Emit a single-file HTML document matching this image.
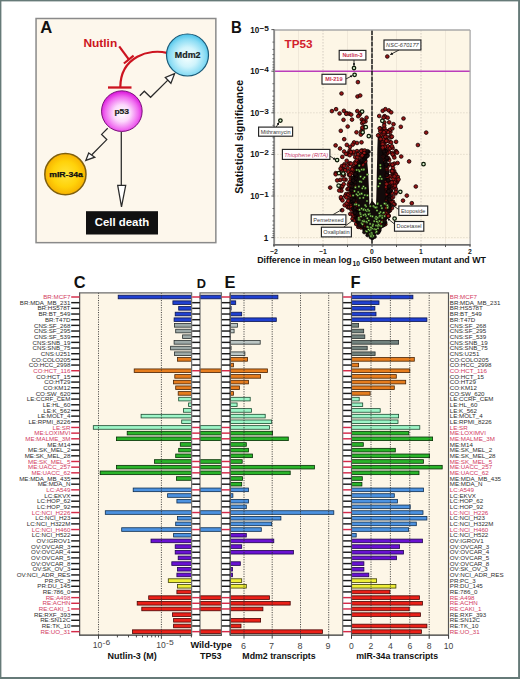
<!DOCTYPE html>
<html><head><meta charset="utf-8"><title>TP53 figure</title>
<style>
html,body{margin:0;padding:0;background:#fff;}
body{width:520px;height:679px;overflow:hidden;}
svg{display:block;font-family:"Liberation Sans", sans-serif;}
</style></head><body>
<svg width="520" height="679" viewBox="0 0 520 679">
<defs>
<radialGradient id="gP" cx="0.5" cy="0.55" r="0.52"><stop offset="0" stop-color="#ffffff"/><stop offset="0.4" stop-color="#fcd8fc"/><stop offset="0.78" stop-color="#f06cf0"/><stop offset="1" stop-color="#de22de"/></radialGradient>
<radialGradient id="gM" cx="0.5" cy="0.55" r="0.52"><stop offset="0" stop-color="#f6ffff"/><stop offset="0.45" stop-color="#d0f4fc"/><stop offset="0.82" stop-color="#8adcf4"/><stop offset="1" stop-color="#58c8ec"/></radialGradient>
<radialGradient id="gO" cx="0.5" cy="0.5" r="0.52"><stop offset="0" stop-color="#ffe43a"/><stop offset="0.6" stop-color="#ffd20a"/><stop offset="1" stop-color="#f6ae00"/></radialGradient>
<marker id="ah" viewBox="0 0 6 6" refX="5.5" refY="3" markerWidth="3.2" markerHeight="3.2" orient="auto"><path d="M0,0 L6,3 L0,6 Z" fill="#111"/></marker>
</defs>
<rect x="0" y="0" width="520" height="679" fill="#fff"/>

<rect x="36.05" y="18.5" width="179.8" height="224.15" fill="#fdf7ec" stroke="#8a8a8a" stroke-width="1.5"/>
<text x="40.3" y="32.9" font-size="16.6" font-weight="bold" fill="#111">A</text>
<text x="83.4" y="46.9" font-size="11.2" font-weight="bold" fill="#cc1420" textLength="33.8" lengthAdjust="spacingAndGlyphs">Nutlin</text>
<g stroke="#cc1420" stroke-width="2.2" fill="none" stroke-linecap="butt">
<path d="M119.2,46.4 L128.8,59.4"/>
<path d="M123.9,63.5 L133.6,55.6"/>
<path d="M166.8,52.9 C150,48.5 120.5,56 120.3,87.2"/>
<path d="M108.0,87.5 L131.5,87.5" stroke-width="2.3"/>
</g>
<g stroke="#2a2a2a" stroke-width="1.25" fill="none" stroke-linejoin="miter">
<path d="M139.8,95.7 L144.3,91.2 L150.6,97.3 L168.1,79.9"/>
<path d="M174.6,73.7 L165.3,77.5 L170.9,83.3 Z" fill="#fff"/>
<path d="M107.7,128.3 L101.6,134.4 L106.8,139.6 L91.6,155"/>
<path d="M85.8,160.4 L88.7,152.9 L94.8,157.2 Z" fill="#fff"/>
<path d="M121.3,132 L121.3,185.3"/>
<path d="M117.7,185.3 L125.7,185.3 L121.5,206.8 Z" fill="#fff"/>
</g>
<circle cx="187.5" cy="55" r="21" fill="url(#gM)" stroke="#1a5a78" stroke-width="1.2"/>
<circle cx="121.85" cy="111.15" r="20.3" fill="url(#gP)" stroke="#7a107a" stroke-width="1"/>
<circle cx="65.4" cy="174.2" r="20.6" fill="url(#gO)" stroke="#80600e" stroke-width="1.5"/>
<text x="174.8" y="58.4" font-size="8.6" font-weight="bold" fill="#142222" stroke="#142222" stroke-width="0.2" textLength="25.7" lengthAdjust="spacingAndGlyphs">Mdm2</text>
<text x="114.4" y="114.1" font-size="7.8" font-weight="bold" fill="#1a1a1a" stroke="#1a1a1a" stroke-width="0.2" textLength="14.7" lengthAdjust="spacingAndGlyphs">p53</text>
<text x="49.2" y="176.8" font-size="7.2" font-weight="bold" fill="#111" stroke="#111" stroke-width="0.25" textLength="33.7" lengthAdjust="spacingAndGlyphs">mIR-34a</text>
<rect x="86" y="211.2" width="72" height="23.3" fill="#111"/>
<text x="94.8" y="226" font-size="11.2" font-weight="bold" fill="#fff" textLength="54.4" lengthAdjust="spacingAndGlyphs">Cell death</text>
<text x="231.1" y="33.3" font-size="17" font-weight="bold" fill="#111" textLength="10.8" lengthAdjust="spacingAndGlyphs">B</text>
<rect x="274.15" y="30.0" width="195.95000000000005" height="214.85" fill="#fdf6e6"/>
<rect x="275.15" y="30.0" width="4.5" height="214.85" fill="#fff" opacity="0.55"/>
<rect x="274.15" y="238.85" width="195.95000000000005" height="5" fill="#fff" opacity="0.35"/>
<line x1="298.5" y1="30.0" x2="298.5" y2="244.85" stroke="#ece5d5" stroke-width="0.8"/>
<line x1="347.5" y1="30.0" x2="347.5" y2="244.85" stroke="#ece5d5" stroke-width="0.8"/>
<line x1="396.5" y1="30.0" x2="396.5" y2="244.85" stroke="#ece5d5" stroke-width="0.8"/>
<line x1="445.5" y1="30.0" x2="445.5" y2="244.85" stroke="#ece5d5" stroke-width="0.8"/>
<line x1="323.0" y1="30.0" x2="323.0" y2="244.85" stroke="#c9c3b6" stroke-width="0.8" stroke-dasharray="1.5,1.5"/>
<line x1="421.0" y1="30.0" x2="421.0" y2="244.85" stroke="#c9c3b6" stroke-width="0.8" stroke-dasharray="1.5,1.5"/>
<line x1="274.15" y1="237.6" x2="470.1" y2="237.6" stroke="#ddd6c6" stroke-width="0.8" stroke-dasharray="1.5,1.5"/>
<line x1="274.15" y1="196.0" x2="470.1" y2="196.0" stroke="#ddd6c6" stroke-width="0.8" stroke-dasharray="1.5,1.5"/>
<line x1="274.15" y1="154.39999999999998" x2="470.1" y2="154.39999999999998" stroke="#ddd6c6" stroke-width="0.8" stroke-dasharray="1.5,1.5"/>
<line x1="274.15" y1="112.79999999999998" x2="470.1" y2="112.79999999999998" stroke="#ddd6c6" stroke-width="0.8" stroke-dasharray="1.5,1.5"/>
<line x1="274.15" y1="71.19999999999999" x2="470.1" y2="71.19999999999999" stroke="#bb3cbb" stroke-width="1.6"/>
<line x1="372" y1="30.0" x2="372" y2="244.85" stroke="#151515" stroke-width="1.5" stroke-dasharray="5,0.8"/>
<polygon points="366.6,156.0 367.3,163.0 368.0,170.0 368.4,177.0 368.7,184.0 369.0,191.0 369.2,198.0 369.4,205.0 372.0,200.5 376.0,205.0 376.3,197.0 376.5,189.0 376.7,181.0 376.8,173.0 377.0,165.0 377.2,157.0 377.3,149.0 377.6,141.0 377.9,133.0 378.5,133.0 382.1,138.1 384.3,143.1 385.6,148.2 386.3,153.3 386.8,158.4 387.3,163.4 387.9,168.5 388.4,173.6 388.9,178.6 389.4,183.7 389.9,188.8 390.0,193.9 390.0,198.9 390.0,204.0 389.2,209.1 388.2,214.1 386.3,219.2 384.3,224.3 380.4,229.4 376.2,234.4 372.0,239.5 372.0,239.5 368.0,235.5 364.0,231.5 361.2,227.6 359.0,223.6 356.8,219.6 355.3,215.6 353.7,211.7 352.7,207.7 352.1,203.7 351.5,199.7 351.3,195.8 351.1,191.8 351.3,187.8 351.9,183.8 352.5,179.9 353.3,175.9 354.1,171.9 355.5,167.9 357.5,164.0 361.5,160.0 366.0,156.0" fill="#120a0a"/>
<circle cx="353.3" cy="153.6" r="1.85" fill="#921414" stroke="#100303" stroke-width="0.8"/>
<circle cx="396.1" cy="141.8" r="1.85" fill="#921414" stroke="#100303" stroke-width="0.8"/>
<circle cx="357.0" cy="151.1" r="1.85" fill="#921414" stroke="#100303" stroke-width="0.8"/>
<circle cx="347.7" cy="168.0" r="1.85" fill="#921414" stroke="#100303" stroke-width="0.8"/>
<circle cx="355.3" cy="202.9" r="1.85" fill="#921414" stroke="#100303" stroke-width="0.8"/>
<circle cx="382.2" cy="129.4" r="1.85" fill="#921414" stroke="#100303" stroke-width="0.8"/>
<circle cx="388.4" cy="150.6" r="1.85" fill="#921414" stroke="#100303" stroke-width="0.8"/>
<circle cx="357.7" cy="218.3" r="1.85" fill="#921414" stroke="#100303" stroke-width="0.8"/>
<circle cx="355.3" cy="157.2" r="1.85" fill="#921414" stroke="#100303" stroke-width="0.8"/>
<circle cx="393.6" cy="155.3" r="1.85" fill="#921414" stroke="#100303" stroke-width="0.8"/>
<circle cx="348.8" cy="193.7" r="1.85" fill="#921414" stroke="#100303" stroke-width="0.8"/>
<circle cx="387.0" cy="213.1" r="1.85" fill="#921414" stroke="#100303" stroke-width="0.8"/>
<circle cx="358.3" cy="220.4" r="1.85" fill="#921414" stroke="#100303" stroke-width="0.8"/>
<circle cx="364.2" cy="126.9" r="1.85" fill="#921414" stroke="#100303" stroke-width="0.8"/>
<circle cx="357.7" cy="223.3" r="1.85" fill="#921414" stroke="#100303" stroke-width="0.8"/>
<circle cx="385.7" cy="138.0" r="1.85" fill="#921414" stroke="#100303" stroke-width="0.8"/>
<circle cx="387.0" cy="137.0" r="1.85" fill="#921414" stroke="#100303" stroke-width="0.8"/>
<circle cx="389.1" cy="210.9" r="1.85" fill="#921414" stroke="#100303" stroke-width="0.8"/>
<circle cx="392.9" cy="201.6" r="1.85" fill="#921414" stroke="#100303" stroke-width="0.8"/>
<circle cx="389.1" cy="131.1" r="1.85" fill="#921414" stroke="#100303" stroke-width="0.8"/>
<circle cx="361.8" cy="119.5" r="1.85" fill="#921414" stroke="#100303" stroke-width="0.8"/>
<circle cx="361.5" cy="150.8" r="1.85" fill="#921414" stroke="#100303" stroke-width="0.8"/>
<circle cx="353.9" cy="165.8" r="1.85" fill="#921414" stroke="#100303" stroke-width="0.8"/>
<circle cx="353.3" cy="199.1" r="1.85" fill="#921414" stroke="#100303" stroke-width="0.8"/>
<circle cx="381.1" cy="130.1" r="1.85" fill="#921414" stroke="#100303" stroke-width="0.8"/>
<circle cx="353.4" cy="216.3" r="1.85" fill="#921414" stroke="#100303" stroke-width="0.8"/>
<circle cx="359.9" cy="224.9" r="1.85" fill="#921414" stroke="#100303" stroke-width="0.8"/>
<circle cx="348.3" cy="164.5" r="1.85" fill="#921414" stroke="#100303" stroke-width="0.8"/>
<circle cx="379.8" cy="136.5" r="1.85" fill="#921414" stroke="#100303" stroke-width="0.8"/>
<circle cx="357.3" cy="165.0" r="1.85" fill="#921414" stroke="#100303" stroke-width="0.8"/>
<circle cx="394.8" cy="186.3" r="1.85" fill="#921414" stroke="#100303" stroke-width="0.8"/>
<circle cx="365.1" cy="160.2" r="1.85" fill="#921414" stroke="#100303" stroke-width="0.8"/>
<circle cx="347.8" cy="206.7" r="1.85" fill="#921414" stroke="#100303" stroke-width="0.8"/>
<circle cx="387.3" cy="199.5" r="1.85" fill="#921414" stroke="#100303" stroke-width="0.8"/>
<circle cx="382.1" cy="139.9" r="1.85" fill="#921414" stroke="#100303" stroke-width="0.8"/>
<circle cx="348.5" cy="203.9" r="1.85" fill="#921414" stroke="#100303" stroke-width="0.8"/>
<circle cx="392.9" cy="174.6" r="1.85" fill="#921414" stroke="#100303" stroke-width="0.8"/>
<circle cx="386.1" cy="154.7" r="1.85" fill="#921414" stroke="#100303" stroke-width="0.8"/>
<circle cx="349.9" cy="163.3" r="1.85" fill="#921414" stroke="#100303" stroke-width="0.8"/>
<circle cx="387.5" cy="210.7" r="1.85" fill="#921414" stroke="#100303" stroke-width="0.8"/>
<circle cx="355.2" cy="162.3" r="1.85" fill="#921414" stroke="#100303" stroke-width="0.8"/>
<circle cx="386.8" cy="153.5" r="1.85" fill="#921414" stroke="#100303" stroke-width="0.8"/>
<circle cx="395.9" cy="189.1" r="1.85" fill="#921414" stroke="#100303" stroke-width="0.8"/>
<circle cx="356.0" cy="209.5" r="1.85" fill="#921414" stroke="#100303" stroke-width="0.8"/>
<circle cx="350.8" cy="178.4" r="1.85" fill="#921414" stroke="#100303" stroke-width="0.8"/>
<circle cx="346.1" cy="194.1" r="1.85" fill="#921414" stroke="#100303" stroke-width="0.8"/>
<circle cx="394.6" cy="204.4" r="1.85" fill="#921414" stroke="#100303" stroke-width="0.8"/>
<circle cx="389.1" cy="203.5" r="1.85" fill="#921414" stroke="#100303" stroke-width="0.8"/>
<circle cx="345.6" cy="179.6" r="1.85" fill="#921414" stroke="#100303" stroke-width="0.8"/>
<circle cx="394.4" cy="163.6" r="1.85" fill="#921414" stroke="#100303" stroke-width="0.8"/>
<circle cx="386.8" cy="204.5" r="1.85" fill="#921414" stroke="#100303" stroke-width="0.8"/>
<circle cx="346.7" cy="160.8" r="1.85" fill="#921414" stroke="#100303" stroke-width="0.8"/>
<circle cx="386.9" cy="194.0" r="1.85" fill="#921414" stroke="#100303" stroke-width="0.8"/>
<circle cx="387.0" cy="158.7" r="1.85" fill="#921414" stroke="#100303" stroke-width="0.8"/>
<circle cx="387.0" cy="189.3" r="1.85" fill="#921414" stroke="#100303" stroke-width="0.8"/>
<circle cx="384.2" cy="134.7" r="1.85" fill="#921414" stroke="#100303" stroke-width="0.8"/>
<circle cx="356.6" cy="218.7" r="1.85" fill="#921414" stroke="#100303" stroke-width="0.8"/>
<circle cx="350.1" cy="184.6" r="1.85" fill="#921414" stroke="#100303" stroke-width="0.8"/>
<circle cx="381.3" cy="224.2" r="1.85" fill="#921414" stroke="#100303" stroke-width="0.8"/>
<circle cx="395.3" cy="173.7" r="1.85" fill="#921414" stroke="#100303" stroke-width="0.8"/>
<circle cx="386.3" cy="132.0" r="1.85" fill="#921414" stroke="#100303" stroke-width="0.8"/>
<circle cx="397.3" cy="181.4" r="1.85" fill="#921414" stroke="#100303" stroke-width="0.8"/>
<circle cx="365.5" cy="121.4" r="1.85" fill="#921414" stroke="#100303" stroke-width="0.8"/>
<circle cx="385.5" cy="160.1" r="1.85" fill="#921414" stroke="#100303" stroke-width="0.8"/>
<circle cx="382.8" cy="221.4" r="1.85" fill="#921414" stroke="#100303" stroke-width="0.8"/>
<circle cx="344.4" cy="164.3" r="1.85" fill="#921414" stroke="#100303" stroke-width="0.8"/>
<circle cx="385.7" cy="153.8" r="1.85" fill="#921414" stroke="#100303" stroke-width="0.8"/>
<circle cx="392.1" cy="187.0" r="1.85" fill="#921414" stroke="#100303" stroke-width="0.8"/>
<circle cx="390.6" cy="135.9" r="1.85" fill="#921414" stroke="#100303" stroke-width="0.8"/>
<circle cx="393.1" cy="196.9" r="1.85" fill="#921414" stroke="#100303" stroke-width="0.8"/>
<circle cx="352.4" cy="167.7" r="1.85" fill="#921414" stroke="#100303" stroke-width="0.8"/>
<circle cx="359.2" cy="167.1" r="1.85" fill="#921414" stroke="#100303" stroke-width="0.8"/>
<circle cx="388.1" cy="146.6" r="1.85" fill="#921414" stroke="#100303" stroke-width="0.8"/>
<circle cx="350.6" cy="207.7" r="1.85" fill="#921414" stroke="#100303" stroke-width="0.8"/>
<circle cx="341.2" cy="198.6" r="1.85" fill="#921414" stroke="#100303" stroke-width="0.8"/>
<circle cx="386.9" cy="189.8" r="1.85" fill="#921414" stroke="#100303" stroke-width="0.8"/>
<circle cx="357.6" cy="219.8" r="1.85" fill="#921414" stroke="#100303" stroke-width="0.8"/>
<circle cx="361.0" cy="155.9" r="1.85" fill="#921414" stroke="#100303" stroke-width="0.8"/>
<circle cx="355.3" cy="211.6" r="1.85" fill="#921414" stroke="#100303" stroke-width="0.8"/>
<circle cx="357.7" cy="213.6" r="1.85" fill="#921414" stroke="#100303" stroke-width="0.8"/>
<circle cx="344.3" cy="170.0" r="1.85" fill="#921414" stroke="#100303" stroke-width="0.8"/>
<circle cx="387.1" cy="175.1" r="1.85" fill="#921414" stroke="#100303" stroke-width="0.8"/>
<circle cx="390.9" cy="137.3" r="1.85" fill="#921414" stroke="#100303" stroke-width="0.8"/>
<circle cx="352.5" cy="202.3" r="1.85" fill="#921414" stroke="#100303" stroke-width="0.8"/>
<circle cx="359.2" cy="218.2" r="1.85" fill="#921414" stroke="#100303" stroke-width="0.8"/>
<circle cx="365.5" cy="153.3" r="1.85" fill="#921414" stroke="#100303" stroke-width="0.8"/>
<circle cx="349.8" cy="199.2" r="1.85" fill="#921414" stroke="#100303" stroke-width="0.8"/>
<circle cx="350.3" cy="213.9" r="1.85" fill="#921414" stroke="#100303" stroke-width="0.8"/>
<circle cx="358.3" cy="226.9" r="1.85" fill="#921414" stroke="#100303" stroke-width="0.8"/>
<circle cx="384.8" cy="214.7" r="1.85" fill="#921414" stroke="#100303" stroke-width="0.8"/>
<circle cx="388.8" cy="152.2" r="1.85" fill="#921414" stroke="#100303" stroke-width="0.8"/>
<circle cx="389.2" cy="186.8" r="1.85" fill="#921414" stroke="#100303" stroke-width="0.8"/>
<circle cx="340.7" cy="187.4" r="1.85" fill="#921414" stroke="#100303" stroke-width="0.8"/>
<circle cx="380.0" cy="135.6" r="1.85" fill="#921414" stroke="#100303" stroke-width="0.8"/>
<circle cx="387.7" cy="176.2" r="1.85" fill="#921414" stroke="#100303" stroke-width="0.8"/>
<circle cx="341.4" cy="190.7" r="1.85" fill="#921414" stroke="#100303" stroke-width="0.8"/>
<circle cx="361.1" cy="224.4" r="1.85" fill="#921414" stroke="#100303" stroke-width="0.8"/>
<circle cx="352.4" cy="198.9" r="1.85" fill="#921414" stroke="#100303" stroke-width="0.8"/>
<circle cx="380.3" cy="131.3" r="1.85" fill="#921414" stroke="#100303" stroke-width="0.8"/>
<circle cx="358.7" cy="160.2" r="1.85" fill="#921414" stroke="#100303" stroke-width="0.8"/>
<circle cx="382.5" cy="225.5" r="1.85" fill="#921414" stroke="#100303" stroke-width="0.8"/>
<circle cx="362.5" cy="150.7" r="1.85" fill="#921414" stroke="#100303" stroke-width="0.8"/>
<circle cx="387.7" cy="216.0" r="1.85" fill="#921414" stroke="#100303" stroke-width="0.8"/>
<circle cx="341.9" cy="187.1" r="1.85" fill="#921414" stroke="#100303" stroke-width="0.8"/>
<circle cx="386.3" cy="174.7" r="1.85" fill="#921414" stroke="#100303" stroke-width="0.8"/>
<circle cx="347.9" cy="153.4" r="1.85" fill="#921414" stroke="#100303" stroke-width="0.8"/>
<circle cx="347.2" cy="154.1" r="1.85" fill="#921414" stroke="#100303" stroke-width="0.8"/>
<circle cx="357.5" cy="153.5" r="1.85" fill="#921414" stroke="#100303" stroke-width="0.8"/>
<circle cx="392.5" cy="172.6" r="1.85" fill="#921414" stroke="#100303" stroke-width="0.8"/>
<circle cx="389.6" cy="182.1" r="1.85" fill="#921414" stroke="#100303" stroke-width="0.8"/>
<circle cx="344.1" cy="151.5" r="1.85" fill="#921414" stroke="#100303" stroke-width="0.8"/>
<circle cx="352.5" cy="192.7" r="1.85" fill="#921414" stroke="#100303" stroke-width="0.8"/>
<circle cx="386.7" cy="131.1" r="1.85" fill="#921414" stroke="#100303" stroke-width="0.8"/>
<circle cx="362.6" cy="129.7" r="1.85" fill="#921414" stroke="#100303" stroke-width="0.8"/>
<circle cx="349.9" cy="182.3" r="1.85" fill="#921414" stroke="#100303" stroke-width="0.8"/>
<circle cx="390.3" cy="164.4" r="1.85" fill="#921414" stroke="#100303" stroke-width="0.8"/>
<circle cx="359.6" cy="114.6" r="1.85" fill="#921414" stroke="#100303" stroke-width="0.8"/>
<circle cx="379.2" cy="116.0" r="1.85" fill="#921414" stroke="#100303" stroke-width="0.8"/>
<circle cx="385.5" cy="215.3" r="1.85" fill="#921414" stroke="#100303" stroke-width="0.8"/>
<circle cx="385.0" cy="131.1" r="1.85" fill="#921414" stroke="#100303" stroke-width="0.8"/>
<circle cx="345.1" cy="170.2" r="1.85" fill="#921414" stroke="#100303" stroke-width="0.8"/>
<circle cx="382.7" cy="144.5" r="1.85" fill="#921414" stroke="#100303" stroke-width="0.8"/>
<circle cx="387.7" cy="209.1" r="1.85" fill="#921414" stroke="#100303" stroke-width="0.8"/>
<circle cx="341.9" cy="166.2" r="1.85" fill="#921414" stroke="#100303" stroke-width="0.8"/>
<circle cx="386.1" cy="141.4" r="1.85" fill="#921414" stroke="#100303" stroke-width="0.8"/>
<circle cx="387.0" cy="158.3" r="1.85" fill="#921414" stroke="#100303" stroke-width="0.8"/>
<circle cx="394.1" cy="171.1" r="1.85" fill="#921414" stroke="#100303" stroke-width="0.8"/>
<circle cx="388.2" cy="158.6" r="1.85" fill="#921414" stroke="#100303" stroke-width="0.8"/>
<circle cx="349.7" cy="150.7" r="1.85" fill="#921414" stroke="#100303" stroke-width="0.8"/>
<circle cx="347.5" cy="189.2" r="1.85" fill="#921414" stroke="#100303" stroke-width="0.8"/>
<circle cx="387.9" cy="146.3" r="1.85" fill="#921414" stroke="#100303" stroke-width="0.8"/>
<circle cx="355.7" cy="163.3" r="1.85" fill="#921414" stroke="#100303" stroke-width="0.8"/>
<circle cx="392.2" cy="153.1" r="1.85" fill="#921414" stroke="#100303" stroke-width="0.8"/>
<circle cx="356.3" cy="216.1" r="1.85" fill="#921414" stroke="#100303" stroke-width="0.8"/>
<circle cx="384.5" cy="116.2" r="1.85" fill="#921414" stroke="#100303" stroke-width="0.8"/>
<circle cx="390.4" cy="131.8" r="1.85" fill="#921414" stroke="#100303" stroke-width="0.8"/>
<circle cx="392.3" cy="165.0" r="1.85" fill="#921414" stroke="#100303" stroke-width="0.8"/>
<circle cx="354.1" cy="142.4" r="1.85" fill="#921414" stroke="#100303" stroke-width="0.8"/>
<circle cx="394.0" cy="187.1" r="1.85" fill="#921414" stroke="#100303" stroke-width="0.8"/>
<circle cx="383.8" cy="143.6" r="1.85" fill="#921414" stroke="#100303" stroke-width="0.8"/>
<circle cx="389.2" cy="160.1" r="1.85" fill="#921414" stroke="#100303" stroke-width="0.8"/>
<circle cx="352.5" cy="218.9" r="1.85" fill="#921414" stroke="#100303" stroke-width="0.8"/>
<circle cx="364.2" cy="227.5" r="1.85" fill="#921414" stroke="#100303" stroke-width="0.8"/>
<circle cx="356.2" cy="224.0" r="1.85" fill="#921414" stroke="#100303" stroke-width="0.8"/>
<circle cx="347.9" cy="194.9" r="1.85" fill="#921414" stroke="#100303" stroke-width="0.8"/>
<circle cx="390.0" cy="210.4" r="1.85" fill="#921414" stroke="#100303" stroke-width="0.8"/>
<circle cx="355.2" cy="207.5" r="1.85" fill="#921414" stroke="#100303" stroke-width="0.8"/>
<circle cx="362.1" cy="224.8" r="1.85" fill="#921414" stroke="#100303" stroke-width="0.8"/>
<circle cx="353.2" cy="201.2" r="1.85" fill="#921414" stroke="#100303" stroke-width="0.8"/>
<circle cx="387.2" cy="140.5" r="1.85" fill="#921414" stroke="#100303" stroke-width="0.8"/>
<circle cx="349.2" cy="175.0" r="1.85" fill="#921414" stroke="#100303" stroke-width="0.8"/>
<circle cx="361.8" cy="157.3" r="1.85" fill="#921414" stroke="#100303" stroke-width="0.8"/>
<circle cx="391.5" cy="189.4" r="1.85" fill="#921414" stroke="#100303" stroke-width="0.8"/>
<circle cx="384.3" cy="122.4" r="1.85" fill="#921414" stroke="#100303" stroke-width="0.8"/>
<circle cx="360.3" cy="224.3" r="1.85" fill="#921414" stroke="#100303" stroke-width="0.8"/>
<circle cx="386.7" cy="205.6" r="1.85" fill="#921414" stroke="#100303" stroke-width="0.8"/>
<circle cx="385.1" cy="218.5" r="1.85" fill="#921414" stroke="#100303" stroke-width="0.8"/>
<circle cx="381.7" cy="225.7" r="1.85" fill="#921414" stroke="#100303" stroke-width="0.8"/>
<circle cx="361.1" cy="155.5" r="1.85" fill="#921414" stroke="#100303" stroke-width="0.8"/>
<circle cx="390.6" cy="200.8" r="1.85" fill="#921414" stroke="#100303" stroke-width="0.8"/>
<circle cx="391.3" cy="198.1" r="1.85" fill="#921414" stroke="#100303" stroke-width="0.8"/>
<circle cx="384.1" cy="224.2" r="1.85" fill="#921414" stroke="#100303" stroke-width="0.8"/>
<circle cx="387.4" cy="170.1" r="1.85" fill="#921414" stroke="#100303" stroke-width="0.8"/>
<circle cx="363.7" cy="226.5" r="1.85" fill="#921414" stroke="#100303" stroke-width="0.8"/>
<circle cx="383.4" cy="139.3" r="1.85" fill="#921414" stroke="#100303" stroke-width="0.8"/>
<circle cx="339.2" cy="190.5" r="1.85" fill="#921414" stroke="#100303" stroke-width="0.8"/>
<circle cx="356.3" cy="218.3" r="1.85" fill="#921414" stroke="#100303" stroke-width="0.8"/>
<circle cx="384.8" cy="149.2" r="1.85" fill="#921414" stroke="#100303" stroke-width="0.8"/>
<circle cx="389.8" cy="129.9" r="1.85" fill="#921414" stroke="#100303" stroke-width="0.8"/>
<circle cx="351.9" cy="191.7" r="1.85" fill="#921414" stroke="#100303" stroke-width="0.8"/>
<circle cx="358.8" cy="225.3" r="1.85" fill="#921414" stroke="#100303" stroke-width="0.8"/>
<circle cx="381.7" cy="134.8" r="1.85" fill="#921414" stroke="#100303" stroke-width="0.8"/>
<circle cx="393.0" cy="167.9" r="1.85" fill="#921414" stroke="#100303" stroke-width="0.8"/>
<circle cx="349.7" cy="155.2" r="1.85" fill="#921414" stroke="#100303" stroke-width="0.8"/>
<circle cx="396.8" cy="182.2" r="1.85" fill="#921414" stroke="#100303" stroke-width="0.8"/>
<circle cx="359.4" cy="224.8" r="1.85" fill="#921414" stroke="#100303" stroke-width="0.8"/>
<circle cx="382.6" cy="224.8" r="1.85" fill="#921414" stroke="#100303" stroke-width="0.8"/>
<circle cx="350.3" cy="184.7" r="1.85" fill="#921414" stroke="#100303" stroke-width="0.8"/>
<circle cx="344.1" cy="165.9" r="1.85" fill="#921414" stroke="#100303" stroke-width="0.8"/>
<circle cx="391.6" cy="170.9" r="1.85" fill="#921414" stroke="#100303" stroke-width="0.8"/>
<circle cx="351.9" cy="185.5" r="1.85" fill="#921414" stroke="#100303" stroke-width="0.8"/>
<circle cx="342.3" cy="156.9" r="1.85" fill="#921414" stroke="#100303" stroke-width="0.8"/>
<circle cx="395.5" cy="193.4" r="1.85" fill="#921414" stroke="#100303" stroke-width="0.8"/>
<circle cx="384.2" cy="144.6" r="1.85" fill="#921414" stroke="#100303" stroke-width="0.8"/>
<circle cx="390.1" cy="176.3" r="1.85" fill="#921414" stroke="#100303" stroke-width="0.8"/>
<circle cx="352.7" cy="205.4" r="1.85" fill="#921414" stroke="#100303" stroke-width="0.8"/>
<circle cx="361.2" cy="150.9" r="1.85" fill="#921414" stroke="#100303" stroke-width="0.8"/>
<circle cx="349.7" cy="186.1" r="1.85" fill="#921414" stroke="#100303" stroke-width="0.8"/>
<circle cx="366.1" cy="156.4" r="1.85" fill="#921414" stroke="#100303" stroke-width="0.8"/>
<circle cx="340.2" cy="179.9" r="1.85" fill="#921414" stroke="#100303" stroke-width="0.8"/>
<circle cx="392.6" cy="148.0" r="1.85" fill="#921414" stroke="#100303" stroke-width="0.8"/>
<circle cx="384.8" cy="217.7" r="1.85" fill="#921414" stroke="#100303" stroke-width="0.8"/>
<circle cx="341.5" cy="170.0" r="1.85" fill="#921414" stroke="#100303" stroke-width="0.8"/>
<circle cx="340.9" cy="186.2" r="1.85" fill="#921414" stroke="#100303" stroke-width="0.8"/>
<circle cx="383.6" cy="156.3" r="1.85" fill="#921414" stroke="#100303" stroke-width="0.8"/>
<circle cx="392.0" cy="182.2" r="1.85" fill="#921414" stroke="#100303" stroke-width="0.8"/>
<circle cx="361.0" cy="227.5" r="1.85" fill="#921414" stroke="#100303" stroke-width="0.8"/>
<circle cx="352.8" cy="204.7" r="1.85" fill="#921414" stroke="#100303" stroke-width="0.8"/>
<circle cx="345.2" cy="196.0" r="1.85" fill="#921414" stroke="#100303" stroke-width="0.8"/>
<circle cx="389.5" cy="201.9" r="1.85" fill="#921414" stroke="#100303" stroke-width="0.8"/>
<circle cx="388.5" cy="179.5" r="1.85" fill="#921414" stroke="#100303" stroke-width="0.8"/>
<circle cx="391.1" cy="182.4" r="1.85" fill="#921414" stroke="#100303" stroke-width="0.8"/>
<circle cx="348.7" cy="184.5" r="1.85" fill="#921414" stroke="#100303" stroke-width="0.8"/>
<circle cx="397.6" cy="163.0" r="1.85" fill="#921414" stroke="#100303" stroke-width="0.8"/>
<circle cx="386.4" cy="208.0" r="1.85" fill="#921414" stroke="#100303" stroke-width="0.8"/>
<circle cx="344.7" cy="205.2" r="1.85" fill="#921414" stroke="#100303" stroke-width="0.8"/>
<circle cx="352.0" cy="119.6" r="1.85" fill="#921414" stroke="#100303" stroke-width="0.8"/>
<circle cx="387.2" cy="214.5" r="1.85" fill="#921414" stroke="#100303" stroke-width="0.8"/>
<circle cx="354.6" cy="196.2" r="1.85" fill="#921414" stroke="#100303" stroke-width="0.8"/>
<circle cx="366.6" cy="117.6" r="1.85" fill="#921414" stroke="#100303" stroke-width="0.8"/>
<circle cx="389.7" cy="202.7" r="1.85" fill="#921414" stroke="#100303" stroke-width="0.8"/>
<circle cx="362.2" cy="123.1" r="1.85" fill="#921414" stroke="#100303" stroke-width="0.8"/>
<circle cx="388.6" cy="216.2" r="1.85" fill="#921414" stroke="#100303" stroke-width="0.8"/>
<circle cx="351.0" cy="202.9" r="1.85" fill="#921414" stroke="#100303" stroke-width="0.8"/>
<circle cx="342.5" cy="200.4" r="1.85" fill="#921414" stroke="#100303" stroke-width="0.8"/>
<circle cx="356.8" cy="220.6" r="1.85" fill="#921414" stroke="#100303" stroke-width="0.8"/>
<circle cx="345.9" cy="153.9" r="1.85" fill="#921414" stroke="#100303" stroke-width="0.8"/>
<circle cx="388.9" cy="206.3" r="1.85" fill="#921414" stroke="#100303" stroke-width="0.8"/>
<circle cx="393.5" cy="184.9" r="1.85" fill="#921414" stroke="#100303" stroke-width="0.8"/>
<circle cx="386.2" cy="187.1" r="1.85" fill="#921414" stroke="#100303" stroke-width="0.8"/>
<circle cx="387.0" cy="216.5" r="1.85" fill="#921414" stroke="#100303" stroke-width="0.8"/>
<circle cx="392.7" cy="154.5" r="1.85" fill="#921414" stroke="#100303" stroke-width="0.8"/>
<circle cx="392.0" cy="208.0" r="1.85" fill="#921414" stroke="#100303" stroke-width="0.8"/>
<circle cx="389.3" cy="141.6" r="1.85" fill="#921414" stroke="#100303" stroke-width="0.8"/>
<circle cx="361.9" cy="133.1" r="1.85" fill="#921414" stroke="#100303" stroke-width="0.8"/>
<circle cx="386.4" cy="215.6" r="1.85" fill="#921414" stroke="#100303" stroke-width="0.8"/>
<circle cx="390.0" cy="148.2" r="1.85" fill="#921414" stroke="#100303" stroke-width="0.8"/>
<circle cx="356.8" cy="160.3" r="1.85" fill="#921414" stroke="#100303" stroke-width="0.8"/>
<circle cx="386.8" cy="152.4" r="1.85" fill="#921414" stroke="#100303" stroke-width="0.8"/>
<circle cx="395.8" cy="151.1" r="1.85" fill="#921414" stroke="#100303" stroke-width="0.8"/>
<circle cx="349.8" cy="182.4" r="1.85" fill="#921414" stroke="#100303" stroke-width="0.8"/>
<circle cx="385.2" cy="116.8" r="1.85" fill="#921414" stroke="#100303" stroke-width="0.8"/>
<circle cx="351.7" cy="191.6" r="1.85" fill="#921414" stroke="#100303" stroke-width="0.8"/>
<circle cx="388.2" cy="210.7" r="1.85" fill="#921414" stroke="#100303" stroke-width="0.8"/>
<circle cx="384.9" cy="134.3" r="1.85" fill="#921414" stroke="#100303" stroke-width="0.8"/>
<circle cx="340.9" cy="197.2" r="1.85" fill="#921414" stroke="#100303" stroke-width="0.8"/>
<circle cx="387.4" cy="176.8" r="1.85" fill="#921414" stroke="#100303" stroke-width="0.8"/>
<circle cx="386.3" cy="140.9" r="1.85" fill="#921414" stroke="#100303" stroke-width="0.8"/>
<circle cx="395.7" cy="182.8" r="1.85" fill="#921414" stroke="#100303" stroke-width="0.8"/>
<circle cx="351.1" cy="163.7" r="1.85" fill="#921414" stroke="#100303" stroke-width="0.8"/>
<circle cx="391.9" cy="193.2" r="1.85" fill="#921414" stroke="#100303" stroke-width="0.8"/>
<circle cx="356.5" cy="167.9" r="1.85" fill="#921414" stroke="#100303" stroke-width="0.8"/>
<circle cx="385.5" cy="213.6" r="1.85" fill="#921414" stroke="#100303" stroke-width="0.8"/>
<circle cx="350.8" cy="195.7" r="1.85" fill="#921414" stroke="#100303" stroke-width="0.8"/>
<circle cx="386.7" cy="167.8" r="1.85" fill="#921414" stroke="#100303" stroke-width="0.8"/>
<circle cx="355.3" cy="175.0" r="1.85" fill="#921414" stroke="#100303" stroke-width="0.8"/>
<circle cx="346.8" cy="144.9" r="1.85" fill="#921414" stroke="#100303" stroke-width="0.8"/>
<circle cx="356.6" cy="212.6" r="1.85" fill="#921414" stroke="#100303" stroke-width="0.8"/>
<circle cx="393.0" cy="171.6" r="1.85" fill="#921414" stroke="#100303" stroke-width="0.8"/>
<circle cx="362.7" cy="224.1" r="1.85" fill="#921414" stroke="#100303" stroke-width="0.8"/>
<circle cx="354.5" cy="220.3" r="1.85" fill="#921414" stroke="#100303" stroke-width="0.8"/>
<circle cx="395.2" cy="179.7" r="1.85" fill="#921414" stroke="#100303" stroke-width="0.8"/>
<circle cx="351.2" cy="170.5" r="1.85" fill="#921414" stroke="#100303" stroke-width="0.8"/>
<circle cx="355.7" cy="211.9" r="1.85" fill="#921414" stroke="#100303" stroke-width="0.8"/>
<circle cx="387.1" cy="190.0" r="1.85" fill="#921414" stroke="#100303" stroke-width="0.8"/>
<circle cx="354.6" cy="168.0" r="1.85" fill="#921414" stroke="#100303" stroke-width="0.8"/>
<circle cx="391.1" cy="142.4" r="1.85" fill="#921414" stroke="#100303" stroke-width="0.8"/>
<circle cx="348.6" cy="207.5" r="1.85" fill="#921414" stroke="#100303" stroke-width="0.8"/>
<circle cx="395.4" cy="183.8" r="1.85" fill="#921414" stroke="#100303" stroke-width="0.8"/>
<circle cx="352.5" cy="205.8" r="1.85" fill="#921414" stroke="#100303" stroke-width="0.8"/>
<circle cx="342.5" cy="175.5" r="1.85" fill="#921414" stroke="#100303" stroke-width="0.8"/>
<circle cx="347.7" cy="206.8" r="1.85" fill="#921414" stroke="#100303" stroke-width="0.8"/>
<circle cx="346.6" cy="203.4" r="1.85" fill="#921414" stroke="#100303" stroke-width="0.8"/>
<circle cx="349.3" cy="207.0" r="1.85" fill="#921414" stroke="#100303" stroke-width="0.8"/>
<circle cx="335.8" cy="173.1" r="1.85" fill="#921414" stroke="#100303" stroke-width="0.8"/>
<circle cx="389.0" cy="183.1" r="1.85" fill="#921414" stroke="#100303" stroke-width="0.8"/>
<circle cx="386.6" cy="212.1" r="1.85" fill="#921414" stroke="#100303" stroke-width="0.8"/>
<circle cx="344.1" cy="174.8" r="1.85" fill="#921414" stroke="#100303" stroke-width="0.8"/>
<circle cx="344.0" cy="179.4" r="1.85" fill="#921414" stroke="#100303" stroke-width="0.8"/>
<circle cx="352.7" cy="214.2" r="1.85" fill="#921414" stroke="#100303" stroke-width="0.8"/>
<circle cx="392.0" cy="146.3" r="1.85" fill="#921414" stroke="#100303" stroke-width="0.8"/>
<circle cx="352.5" cy="191.7" r="1.85" fill="#921414" stroke="#100303" stroke-width="0.8"/>
<circle cx="348.5" cy="172.2" r="1.85" fill="#921414" stroke="#100303" stroke-width="0.8"/>
<circle cx="386.6" cy="181.3" r="1.85" fill="#921414" stroke="#100303" stroke-width="0.8"/>
<circle cx="394.3" cy="182.3" r="1.85" fill="#921414" stroke="#100303" stroke-width="0.8"/>
<circle cx="392.2" cy="171.1" r="1.85" fill="#921414" stroke="#100303" stroke-width="0.8"/>
<circle cx="383.7" cy="149.7" r="1.85" fill="#921414" stroke="#100303" stroke-width="0.8"/>
<circle cx="387.4" cy="212.4" r="1.85" fill="#921414" stroke="#100303" stroke-width="0.8"/>
<circle cx="390.2" cy="201.8" r="1.85" fill="#921414" stroke="#100303" stroke-width="0.8"/>
<circle cx="353.5" cy="207.0" r="1.85" fill="#921414" stroke="#100303" stroke-width="0.8"/>
<circle cx="346.8" cy="113.3" r="1.85" fill="#921414" stroke="#100303" stroke-width="0.8"/>
<circle cx="363.5" cy="156.5" r="1.85" fill="#921414" stroke="#100303" stroke-width="0.8"/>
<circle cx="397.8" cy="176.9" r="1.85" fill="#921414" stroke="#100303" stroke-width="0.8"/>
<circle cx="358.3" cy="220.5" r="1.85" fill="#921414" stroke="#100303" stroke-width="0.8"/>
<circle cx="394.3" cy="157.5" r="1.85" fill="#921414" stroke="#100303" stroke-width="0.8"/>
<circle cx="342.4" cy="186.1" r="1.85" fill="#921414" stroke="#100303" stroke-width="0.8"/>
<circle cx="396.3" cy="151.6" r="1.85" fill="#921414" stroke="#100303" stroke-width="0.8"/>
<circle cx="365.2" cy="161.4" r="1.85" fill="#921414" stroke="#100303" stroke-width="0.8"/>
<circle cx="388.0" cy="132.1" r="1.85" fill="#921414" stroke="#100303" stroke-width="0.8"/>
<circle cx="388.7" cy="185.2" r="1.85" fill="#921414" stroke="#100303" stroke-width="0.8"/>
<circle cx="385.3" cy="136.8" r="1.85" fill="#921414" stroke="#100303" stroke-width="0.8"/>
<circle cx="395.9" cy="191.9" r="1.85" fill="#921414" stroke="#100303" stroke-width="0.8"/>
<circle cx="392.6" cy="177.0" r="1.85" fill="#921414" stroke="#100303" stroke-width="0.8"/>
<circle cx="355.2" cy="206.6" r="1.85" fill="#921414" stroke="#100303" stroke-width="0.8"/>
<circle cx="390.3" cy="190.9" r="1.85" fill="#921414" stroke="#100303" stroke-width="0.8"/>
<circle cx="385.2" cy="151.6" r="1.85" fill="#921414" stroke="#100303" stroke-width="0.8"/>
<circle cx="359.3" cy="226.4" r="1.85" fill="#921414" stroke="#100303" stroke-width="0.8"/>
<circle cx="359.1" cy="162.3" r="1.85" fill="#921414" stroke="#100303" stroke-width="0.8"/>
<circle cx="350.8" cy="184.0" r="1.85" fill="#921414" stroke="#100303" stroke-width="0.8"/>
<circle cx="389.3" cy="184.2" r="1.85" fill="#921414" stroke="#100303" stroke-width="0.8"/>
<circle cx="385.3" cy="130.8" r="1.85" fill="#921414" stroke="#100303" stroke-width="0.8"/>
<circle cx="393.4" cy="178.9" r="1.85" fill="#921414" stroke="#100303" stroke-width="0.8"/>
<circle cx="362.1" cy="154.8" r="1.85" fill="#921414" stroke="#100303" stroke-width="0.8"/>
<circle cx="363.3" cy="155.3" r="1.85" fill="#921414" stroke="#100303" stroke-width="0.8"/>
<circle cx="378.1" cy="135.4" r="1.85" fill="#921414" stroke="#100303" stroke-width="0.8"/>
<circle cx="382.5" cy="142.5" r="1.85" fill="#921414" stroke="#100303" stroke-width="0.8"/>
<circle cx="384.9" cy="146.8" r="1.85" fill="#921414" stroke="#100303" stroke-width="0.8"/>
<circle cx="383.6" cy="133.9" r="1.85" fill="#921414" stroke="#100303" stroke-width="0.8"/>
<circle cx="388.6" cy="215.5" r="1.85" fill="#921414" stroke="#100303" stroke-width="0.8"/>
<circle cx="388.3" cy="201.4" r="1.85" fill="#921414" stroke="#100303" stroke-width="0.8"/>
<circle cx="353.4" cy="171.0" r="1.85" fill="#921414" stroke="#100303" stroke-width="0.8"/>
<circle cx="354.5" cy="186.2" r="1.85" fill="#921414" stroke="#100303" stroke-width="0.8"/>
<circle cx="390.6" cy="183.1" r="1.85" fill="#921414" stroke="#100303" stroke-width="0.8"/>
<circle cx="353.2" cy="170.0" r="1.85" fill="#921414" stroke="#100303" stroke-width="0.8"/>
<circle cx="364.7" cy="150.5" r="1.85" fill="#921414" stroke="#100303" stroke-width="0.8"/>
<circle cx="358.9" cy="220.1" r="1.85" fill="#921414" stroke="#100303" stroke-width="0.8"/>
<circle cx="391.9" cy="136.7" r="1.85" fill="#921414" stroke="#100303" stroke-width="0.8"/>
<circle cx="358.3" cy="215.5" r="1.85" fill="#921414" stroke="#100303" stroke-width="0.8"/>
<circle cx="346.4" cy="197.4" r="1.85" fill="#921414" stroke="#100303" stroke-width="0.8"/>
<circle cx="357.3" cy="157.2" r="1.85" fill="#921414" stroke="#100303" stroke-width="0.8"/>
<circle cx="395.8" cy="174.7" r="1.85" fill="#921414" stroke="#100303" stroke-width="0.8"/>
<circle cx="354.7" cy="173.7" r="1.85" fill="#921414" stroke="#100303" stroke-width="0.8"/>
<circle cx="351.5" cy="205.0" r="1.85" fill="#921414" stroke="#100303" stroke-width="0.8"/>
<circle cx="353.5" cy="151.8" r="1.85" fill="#921414" stroke="#100303" stroke-width="0.8"/>
<circle cx="383.7" cy="222.9" r="1.85" fill="#921414" stroke="#100303" stroke-width="0.8"/>
<circle cx="360.5" cy="164.5" r="1.85" fill="#921414" stroke="#100303" stroke-width="0.8"/>
<circle cx="343.7" cy="184.1" r="1.85" fill="#921414" stroke="#100303" stroke-width="0.8"/>
<circle cx="348.8" cy="189.0" r="1.85" fill="#921414" stroke="#100303" stroke-width="0.8"/>
<circle cx="385.3" cy="224.2" r="1.85" fill="#921414" stroke="#100303" stroke-width="0.8"/>
<circle cx="349.3" cy="113.7" r="1.85" fill="#921414" stroke="#100303" stroke-width="0.8"/>
<circle cx="356.1" cy="213.1" r="1.85" fill="#921414" stroke="#100303" stroke-width="0.8"/>
<circle cx="362.7" cy="164.6" r="1.85" fill="#921414" stroke="#100303" stroke-width="0.8"/>
<circle cx="382.6" cy="144.2" r="1.85" fill="#921414" stroke="#100303" stroke-width="0.8"/>
<circle cx="389.2" cy="189.9" r="1.85" fill="#921414" stroke="#100303" stroke-width="0.8"/>
<circle cx="360.9" cy="162.7" r="1.85" fill="#921414" stroke="#100303" stroke-width="0.8"/>
<circle cx="388.4" cy="200.5" r="1.85" fill="#921414" stroke="#100303" stroke-width="0.8"/>
<circle cx="388.2" cy="216.0" r="1.85" fill="#921414" stroke="#100303" stroke-width="0.8"/>
<circle cx="354.6" cy="200.2" r="1.85" fill="#921414" stroke="#100303" stroke-width="0.8"/>
<circle cx="354.5" cy="211.0" r="1.85" fill="#921414" stroke="#100303" stroke-width="0.8"/>
<circle cx="386.5" cy="184.1" r="1.85" fill="#921414" stroke="#100303" stroke-width="0.8"/>
<circle cx="392.5" cy="164.7" r="1.85" fill="#921414" stroke="#100303" stroke-width="0.8"/>
<circle cx="380.6" cy="139.0" r="1.85" fill="#921414" stroke="#100303" stroke-width="0.8"/>
<circle cx="352.2" cy="169.3" r="1.85" fill="#921414" stroke="#100303" stroke-width="0.8"/>
<circle cx="361.3" cy="224.5" r="1.85" fill="#921414" stroke="#100303" stroke-width="0.8"/>
<circle cx="363.7" cy="120.5" r="1.85" fill="#921414" stroke="#100303" stroke-width="0.8"/>
<circle cx="380.4" cy="128.4" r="1.85" fill="#921414" stroke="#100303" stroke-width="0.8"/>
<circle cx="384.4" cy="128.0" r="1.85" fill="#921414" stroke="#100303" stroke-width="0.8"/>
<circle cx="340.6" cy="168.6" r="1.85" fill="#921414" stroke="#100303" stroke-width="0.8"/>
<circle cx="351.0" cy="207.0" r="1.85" fill="#921414" stroke="#100303" stroke-width="0.8"/>
<circle cx="379.7" cy="128.3" r="1.85" fill="#921414" stroke="#100303" stroke-width="0.8"/>
<circle cx="391.5" cy="203.9" r="1.85" fill="#921414" stroke="#100303" stroke-width="0.8"/>
<circle cx="350.8" cy="152.1" r="1.85" fill="#921414" stroke="#100303" stroke-width="0.8"/>
<circle cx="351.5" cy="209.7" r="1.85" fill="#921414" stroke="#100303" stroke-width="0.8"/>
<circle cx="358.0" cy="154.2" r="1.85" fill="#921414" stroke="#100303" stroke-width="0.8"/>
<circle cx="392.1" cy="202.3" r="1.85" fill="#921414" stroke="#100303" stroke-width="0.8"/>
<circle cx="381.5" cy="223.6" r="1.85" fill="#921414" stroke="#100303" stroke-width="0.8"/>
<circle cx="354.9" cy="178.6" r="1.85" fill="#921414" stroke="#100303" stroke-width="0.8"/>
<circle cx="393.7" cy="204.3" r="1.85" fill="#921414" stroke="#100303" stroke-width="0.8"/>
<circle cx="391.8" cy="182.4" r="1.85" fill="#921414" stroke="#100303" stroke-width="0.8"/>
<circle cx="387.7" cy="166.3" r="1.85" fill="#921414" stroke="#100303" stroke-width="0.8"/>
<circle cx="364.2" cy="153.1" r="1.85" fill="#921414" stroke="#100303" stroke-width="0.8"/>
<circle cx="351.0" cy="186.0" r="1.85" fill="#921414" stroke="#100303" stroke-width="0.8"/>
<circle cx="389.0" cy="208.2" r="1.85" fill="#921414" stroke="#100303" stroke-width="0.8"/>
<circle cx="365.2" cy="156.1" r="1.85" fill="#921414" stroke="#100303" stroke-width="0.8"/>
<circle cx="351.2" cy="173.4" r="1.85" fill="#921414" stroke="#100303" stroke-width="0.8"/>
<circle cx="385.1" cy="160.6" r="1.85" fill="#921414" stroke="#100303" stroke-width="0.8"/>
<circle cx="394.5" cy="176.4" r="1.85" fill="#921414" stroke="#100303" stroke-width="0.8"/>
<circle cx="387.0" cy="200.2" r="1.85" fill="#921414" stroke="#100303" stroke-width="0.8"/>
<circle cx="388.1" cy="158.0" r="1.85" fill="#921414" stroke="#100303" stroke-width="0.8"/>
<circle cx="362.2" cy="155.5" r="1.85" fill="#921414" stroke="#100303" stroke-width="0.8"/>
<circle cx="382.7" cy="147.5" r="1.85" fill="#921414" stroke="#100303" stroke-width="0.8"/>
<circle cx="389.3" cy="201.7" r="1.85" fill="#921414" stroke="#100303" stroke-width="0.8"/>
<circle cx="384.0" cy="132.2" r="1.85" fill="#921414" stroke="#100303" stroke-width="0.8"/>
<circle cx="348.3" cy="201.0" r="1.85" fill="#921414" stroke="#100303" stroke-width="0.8"/>
<circle cx="389.4" cy="206.7" r="1.85" fill="#921414" stroke="#100303" stroke-width="0.8"/>
<circle cx="395.0" cy="185.9" r="1.85" fill="#921414" stroke="#100303" stroke-width="0.8"/>
<circle cx="350.0" cy="174.7" r="1.85" fill="#921414" stroke="#100303" stroke-width="0.8"/>
<circle cx="362.0" cy="226.4" r="1.85" fill="#921414" stroke="#100303" stroke-width="0.8"/>
<circle cx="355.5" cy="206.6" r="1.85" fill="#921414" stroke="#100303" stroke-width="0.8"/>
<circle cx="359.2" cy="217.3" r="1.85" fill="#921414" stroke="#100303" stroke-width="0.8"/>
<circle cx="387.2" cy="164.6" r="1.8" fill="#1a0c0c" stroke="#000" stroke-width="0.5"/>
<circle cx="377.5" cy="232.7" r="1.8" fill="#1a0c0c" stroke="#000" stroke-width="0.5"/>
<circle cx="355.7" cy="212.4" r="1.8" fill="#1a0c0c" stroke="#000" stroke-width="0.5"/>
<circle cx="355.8" cy="175.5" r="1.8" fill="#1a0c0c" stroke="#000" stroke-width="0.5"/>
<circle cx="357.3" cy="169.4" r="1.8" fill="#1a0c0c" stroke="#000" stroke-width="0.5"/>
<circle cx="351.7" cy="190.8" r="1.8" fill="#1a0c0c" stroke="#000" stroke-width="0.5"/>
<circle cx="387.1" cy="174.7" r="1.8" fill="#1a0c0c" stroke="#000" stroke-width="0.5"/>
<circle cx="366.3" cy="231.0" r="1.8" fill="#1a0c0c" stroke="#000" stroke-width="0.5"/>
<circle cx="379.1" cy="230.7" r="1.8" fill="#1a0c0c" stroke="#000" stroke-width="0.5"/>
<circle cx="355.1" cy="175.3" r="1.8" fill="#1a0c0c" stroke="#000" stroke-width="0.5"/>
<circle cx="367.7" cy="154.9" r="1.8" fill="#1a0c0c" stroke="#000" stroke-width="0.5"/>
<circle cx="384.7" cy="217.5" r="1.8" fill="#1a0c0c" stroke="#000" stroke-width="0.5"/>
<circle cx="362.1" cy="226.2" r="1.8" fill="#1a0c0c" stroke="#000" stroke-width="0.5"/>
<circle cx="388.0" cy="190.7" r="1.8" fill="#1a0c0c" stroke="#000" stroke-width="0.5"/>
<circle cx="385.4" cy="150.7" r="1.8" fill="#1a0c0c" stroke="#000" stroke-width="0.5"/>
<circle cx="354.4" cy="213.1" r="1.8" fill="#1a0c0c" stroke="#000" stroke-width="0.5"/>
<circle cx="389.3" cy="205.0" r="1.8" fill="#1a0c0c" stroke="#000" stroke-width="0.5"/>
<circle cx="387.5" cy="202.4" r="1.8" fill="#1a0c0c" stroke="#000" stroke-width="0.5"/>
<circle cx="353.1" cy="189.7" r="1.8" fill="#1a0c0c" stroke="#000" stroke-width="0.5"/>
<circle cx="389.4" cy="195.5" r="1.8" fill="#1a0c0c" stroke="#000" stroke-width="0.5"/>
<circle cx="377.3" cy="229.7" r="1.8" fill="#1a0c0c" stroke="#000" stroke-width="0.5"/>
<circle cx="352.7" cy="208.8" r="1.8" fill="#1a0c0c" stroke="#000" stroke-width="0.5"/>
<circle cx="389.8" cy="192.1" r="1.8" fill="#1a0c0c" stroke="#000" stroke-width="0.5"/>
<circle cx="364.1" cy="159.3" r="1.8" fill="#1a0c0c" stroke="#000" stroke-width="0.5"/>
<circle cx="367.5" cy="235.2" r="1.8" fill="#1a0c0c" stroke="#000" stroke-width="0.5"/>
<circle cx="388.6" cy="211.2" r="1.8" fill="#1a0c0c" stroke="#000" stroke-width="0.5"/>
<circle cx="358.1" cy="167.4" r="1.8" fill="#1a0c0c" stroke="#000" stroke-width="0.5"/>
<circle cx="351.6" cy="183.6" r="1.8" fill="#1a0c0c" stroke="#000" stroke-width="0.5"/>
<circle cx="357.9" cy="220.2" r="1.8" fill="#1a0c0c" stroke="#000" stroke-width="0.5"/>
<circle cx="389.5" cy="207.7" r="1.8" fill="#1a0c0c" stroke="#000" stroke-width="0.5"/>
<circle cx="387.4" cy="180.1" r="1.8" fill="#1a0c0c" stroke="#000" stroke-width="0.5"/>
<circle cx="383.8" cy="223.8" r="1.8" fill="#1a0c0c" stroke="#000" stroke-width="0.5"/>
<circle cx="384.0" cy="222.5" r="1.8" fill="#1a0c0c" stroke="#000" stroke-width="0.5"/>
<circle cx="385.4" cy="164.3" r="1.8" fill="#1a0c0c" stroke="#000" stroke-width="0.5"/>
<circle cx="352.4" cy="199.4" r="1.8" fill="#1a0c0c" stroke="#000" stroke-width="0.5"/>
<circle cx="389.0" cy="204.2" r="1.8" fill="#1a0c0c" stroke="#000" stroke-width="0.5"/>
<circle cx="387.5" cy="172.2" r="1.8" fill="#1a0c0c" stroke="#000" stroke-width="0.5"/>
<circle cx="351.8" cy="201.9" r="1.8" fill="#1a0c0c" stroke="#000" stroke-width="0.5"/>
<circle cx="354.2" cy="199.0" r="1.8" fill="#1a0c0c" stroke="#000" stroke-width="0.5"/>
<circle cx="353.4" cy="181.0" r="1.8" fill="#1a0c0c" stroke="#000" stroke-width="0.5"/>
<circle cx="387.3" cy="159.1" r="1.8" fill="#1a0c0c" stroke="#000" stroke-width="0.5"/>
<circle cx="385.3" cy="222.4" r="1.8" fill="#1a0c0c" stroke="#000" stroke-width="0.5"/>
<circle cx="352.8" cy="179.1" r="1.8" fill="#1a0c0c" stroke="#000" stroke-width="0.5"/>
<circle cx="389.1" cy="187.4" r="1.8" fill="#1a0c0c" stroke="#000" stroke-width="0.5"/>
<circle cx="389.2" cy="198.0" r="1.8" fill="#1a0c0c" stroke="#000" stroke-width="0.5"/>
<circle cx="353.3" cy="203.7" r="1.8" fill="#1a0c0c" stroke="#000" stroke-width="0.5"/>
<circle cx="364.5" cy="158.9" r="1.8" fill="#1a0c0c" stroke="#000" stroke-width="0.5"/>
<circle cx="357.0" cy="169.7" r="1.8" fill="#1a0c0c" stroke="#000" stroke-width="0.5"/>
<circle cx="361.6" cy="162.0" r="1.8" fill="#1a0c0c" stroke="#000" stroke-width="0.5"/>
<circle cx="363.4" cy="160.6" r="1.8" fill="#1a0c0c" stroke="#000" stroke-width="0.5"/>
<circle cx="389.3" cy="186.3" r="1.8" fill="#1a0c0c" stroke="#000" stroke-width="0.5"/>
<circle cx="368.7" cy="151.8" r="1.8" fill="#1a0c0c" stroke="#000" stroke-width="0.5"/>
<circle cx="355.6" cy="178.3" r="1.8" fill="#1a0c0c" stroke="#000" stroke-width="0.5"/>
<circle cx="386.2" cy="159.7" r="1.8" fill="#1a0c0c" stroke="#000" stroke-width="0.5"/>
<circle cx="354.0" cy="205.3" r="1.8" fill="#1a0c0c" stroke="#000" stroke-width="0.5"/>
<circle cx="358.0" cy="222.3" r="1.8" fill="#1a0c0c" stroke="#000" stroke-width="0.5"/>
<circle cx="360.5" cy="161.6" r="1.8" fill="#1a0c0c" stroke="#000" stroke-width="0.5"/>
<circle cx="359.0" cy="221.9" r="1.8" fill="#1a0c0c" stroke="#000" stroke-width="0.5"/>
<circle cx="353.1" cy="185.3" r="1.8" fill="#1a0c0c" stroke="#000" stroke-width="0.5"/>
<circle cx="353.6" cy="197.1" r="1.8" fill="#1a0c0c" stroke="#000" stroke-width="0.5"/>
<circle cx="354.1" cy="195.5" r="1.8" fill="#1a0c0c" stroke="#000" stroke-width="0.5"/>
<circle cx="356.7" cy="212.1" r="1.8" fill="#1a0c0c" stroke="#000" stroke-width="0.5"/>
<circle cx="352.0" cy="200.9" r="1.8" fill="#1a0c0c" stroke="#000" stroke-width="0.5"/>
<circle cx="366.5" cy="156.0" r="1.8" fill="#1a0c0c" stroke="#000" stroke-width="0.5"/>
<circle cx="388.1" cy="180.3" r="1.8" fill="#1a0c0c" stroke="#000" stroke-width="0.5"/>
<circle cx="357.1" cy="166.9" r="1.8" fill="#1a0c0c" stroke="#000" stroke-width="0.5"/>
<circle cx="365.8" cy="157.3" r="1.8" fill="#1a0c0c" stroke="#000" stroke-width="0.5"/>
<circle cx="364.5" cy="230.0" r="1.8" fill="#1a0c0c" stroke="#000" stroke-width="0.5"/>
<circle cx="354.5" cy="209.8" r="1.8" fill="#1a0c0c" stroke="#000" stroke-width="0.5"/>
<circle cx="350.7" cy="189.5" r="1.8" fill="#1a0c0c" stroke="#000" stroke-width="0.5"/>
<circle cx="372.7" cy="237.6" r="1.8" fill="#1a0c0c" stroke="#000" stroke-width="0.5"/>
<circle cx="355.0" cy="182.3" r="1.8" fill="#1a0c0c" stroke="#000" stroke-width="0.5"/>
<circle cx="355.1" cy="208.1" r="1.8" fill="#1a0c0c" stroke="#000" stroke-width="0.5"/>
<circle cx="355.9" cy="212.3" r="1.8" fill="#1a0c0c" stroke="#000" stroke-width="0.5"/>
<circle cx="357.0" cy="214.9" r="1.8" fill="#1a0c0c" stroke="#000" stroke-width="0.5"/>
<circle cx="379.1" cy="230.7" r="1.8" fill="#1a0c0c" stroke="#000" stroke-width="0.5"/>
<circle cx="372.6" cy="237.1" r="1.8" fill="#1a0c0c" stroke="#000" stroke-width="0.5"/>
<circle cx="389.2" cy="199.5" r="1.8" fill="#1a0c0c" stroke="#000" stroke-width="0.5"/>
<circle cx="366.2" cy="156.2" r="1.8" fill="#1a0c0c" stroke="#000" stroke-width="0.5"/>
<circle cx="358.7" cy="222.0" r="1.8" fill="#1a0c0c" stroke="#000" stroke-width="0.5"/>
<circle cx="358.8" cy="222.4" r="1.8" fill="#1a0c0c" stroke="#000" stroke-width="0.5"/>
<circle cx="356.1" cy="172.6" r="1.8" fill="#1a0c0c" stroke="#000" stroke-width="0.5"/>
<circle cx="353.5" cy="178.2" r="1.8" fill="#1a0c0c" stroke="#000" stroke-width="0.5"/>
<circle cx="384.0" cy="155.8" r="1.8" fill="#1a0c0c" stroke="#000" stroke-width="0.5"/>
<circle cx="386.7" cy="175.1" r="1.8" fill="#1a0c0c" stroke="#000" stroke-width="0.5"/>
<circle cx="352.7" cy="194.6" r="1.8" fill="#1a0c0c" stroke="#000" stroke-width="0.5"/>
<circle cx="352.4" cy="177.9" r="1.8" fill="#1a0c0c" stroke="#000" stroke-width="0.5"/>
<circle cx="386.0" cy="151.3" r="1.8" fill="#1a0c0c" stroke="#000" stroke-width="0.5"/>
<circle cx="372.2" cy="237.9" r="1.8" fill="#1a0c0c" stroke="#000" stroke-width="0.5"/>
<circle cx="389.2" cy="206.7" r="1.8" fill="#1a0c0c" stroke="#000" stroke-width="0.5"/>
<circle cx="370.8" cy="237.3" r="1.8" fill="#1a0c0c" stroke="#000" stroke-width="0.5"/>
<circle cx="356.3" cy="218.5" r="1.8" fill="#1a0c0c" stroke="#000" stroke-width="0.5"/>
<circle cx="364.6" cy="229.1" r="1.8" fill="#1a0c0c" stroke="#000" stroke-width="0.5"/>
<circle cx="365.1" cy="230.5" r="1.8" fill="#1a0c0c" stroke="#000" stroke-width="0.5"/>
<circle cx="356.4" cy="175.4" r="1.8" fill="#1a0c0c" stroke="#000" stroke-width="0.5"/>
<circle cx="380.0" cy="228.1" r="1.8" fill="#1a0c0c" stroke="#000" stroke-width="0.5"/>
<circle cx="374.7" cy="236.8" r="1.8" fill="#1a0c0c" stroke="#000" stroke-width="0.5"/>
<circle cx="356.7" cy="213.5" r="1.8" fill="#1a0c0c" stroke="#000" stroke-width="0.5"/>
<circle cx="383.7" cy="223.7" r="1.8" fill="#1a0c0c" stroke="#000" stroke-width="0.5"/>
<circle cx="384.8" cy="153.3" r="1.8" fill="#1a0c0c" stroke="#000" stroke-width="0.5"/>
<circle cx="356.1" cy="167.3" r="1.8" fill="#1a0c0c" stroke="#000" stroke-width="0.5"/>
<circle cx="360.7" cy="221.8" r="1.8" fill="#1a0c0c" stroke="#000" stroke-width="0.5"/>
<circle cx="384.0" cy="151.5" r="1.8" fill="#1a0c0c" stroke="#000" stroke-width="0.5"/>
<circle cx="353.9" cy="195.3" r="1.8" fill="#1a0c0c" stroke="#000" stroke-width="0.5"/>
<circle cx="359.3" cy="163.7" r="1.8" fill="#1a0c0c" stroke="#000" stroke-width="0.5"/>
<circle cx="351.5" cy="189.9" r="1.8" fill="#1a0c0c" stroke="#000" stroke-width="0.5"/>
<circle cx="364.3" cy="232.2" r="1.8" fill="#1a0c0c" stroke="#000" stroke-width="0.5"/>
<circle cx="379.3" cy="230.0" r="1.8" fill="#1a0c0c" stroke="#000" stroke-width="0.5"/>
<circle cx="388.4" cy="191.5" r="1.8" fill="#1a0c0c" stroke="#000" stroke-width="0.5"/>
<circle cx="367.4" cy="151.1" r="1.8" fill="#1a0c0c" stroke="#000" stroke-width="0.5"/>
<circle cx="387.2" cy="198.3" r="1.8" fill="#1a0c0c" stroke="#000" stroke-width="0.5"/>
<circle cx="383.4" cy="225.2" r="1.8" fill="#1a0c0c" stroke="#000" stroke-width="0.5"/>
<circle cx="352.2" cy="186.4" r="1.8" fill="#1a0c0c" stroke="#000" stroke-width="0.5"/>
<circle cx="355.3" cy="174.2" r="1.8" fill="#1a0c0c" stroke="#000" stroke-width="0.5"/>
<circle cx="359.8" cy="223.1" r="1.8" fill="#1a0c0c" stroke="#000" stroke-width="0.5"/>
<circle cx="389.5" cy="196.8" r="1.8" fill="#1a0c0c" stroke="#000" stroke-width="0.5"/>
<circle cx="388.6" cy="204.8" r="1.8" fill="#1a0c0c" stroke="#000" stroke-width="0.5"/>
<circle cx="384.6" cy="221.0" r="1.8" fill="#1a0c0c" stroke="#000" stroke-width="0.5"/>
<circle cx="361.5" cy="160.3" r="1.8" fill="#1a0c0c" stroke="#000" stroke-width="0.5"/>
<circle cx="358.4" cy="166.9" r="1.8" fill="#1a0c0c" stroke="#000" stroke-width="0.5"/>
<circle cx="353.2" cy="180.6" r="1.8" fill="#1a0c0c" stroke="#000" stroke-width="0.5"/>
<circle cx="386.1" cy="166.2" r="1.8" fill="#1a0c0c" stroke="#000" stroke-width="0.5"/>
<circle cx="378.3" cy="232.4" r="1.8" fill="#1a0c0c" stroke="#000" stroke-width="0.5"/>
<circle cx="359.6" cy="225.6" r="1.8" fill="#1a0c0c" stroke="#000" stroke-width="0.5"/>
<circle cx="357.2" cy="168.7" r="1.8" fill="#1a0c0c" stroke="#000" stroke-width="0.5"/>
<circle cx="385.3" cy="162.1" r="1.8" fill="#1a0c0c" stroke="#000" stroke-width="0.5"/>
<circle cx="388.0" cy="192.3" r="1.8" fill="#1a0c0c" stroke="#000" stroke-width="0.5"/>
<circle cx="359.7" cy="165.1" r="1.8" fill="#1a0c0c" stroke="#000" stroke-width="0.5"/>
<circle cx="351.4" cy="198.6" r="1.8" fill="#1a0c0c" stroke="#000" stroke-width="0.5"/>
<circle cx="367.6" cy="156.0" r="1.8" fill="#1a0c0c" stroke="#000" stroke-width="0.5"/>
<circle cx="390.5" cy="190.2" r="1.8" fill="#1a0c0c" stroke="#000" stroke-width="0.5"/>
<circle cx="353.8" cy="200.2" r="1.8" fill="#1a0c0c" stroke="#000" stroke-width="0.5"/>
<circle cx="386.9" cy="157.8" r="1.8" fill="#1a0c0c" stroke="#000" stroke-width="0.5"/>
<circle cx="357.9" cy="218.3" r="1.8" fill="#1a0c0c" stroke="#000" stroke-width="0.5"/>
<circle cx="359.8" cy="220.6" r="1.8" fill="#1a0c0c" stroke="#000" stroke-width="0.5"/>
<circle cx="386.4" cy="164.6" r="1.8" fill="#1a0c0c" stroke="#000" stroke-width="0.5"/>
<circle cx="357.2" cy="219.4" r="1.8" fill="#1a0c0c" stroke="#000" stroke-width="0.5"/>
<circle cx="354.9" cy="212.7" r="1.8" fill="#1a0c0c" stroke="#000" stroke-width="0.5"/>
<circle cx="388.5" cy="191.2" r="1.8" fill="#1a0c0c" stroke="#000" stroke-width="0.5"/>
<circle cx="389.4" cy="199.5" r="1.8" fill="#1a0c0c" stroke="#000" stroke-width="0.5"/>
<circle cx="379.9" cy="183.5" r="1.1" fill="#a0e868" stroke="#0a1a06" stroke-width="0.55"/>
<circle cx="358.7" cy="170.2" r="1.1" fill="#a0e868" stroke="#0a1a06" stroke-width="0.55"/>
<circle cx="363.9" cy="220.6" r="1.1" fill="#a0e868" stroke="#0a1a06" stroke-width="0.55"/>
<circle cx="366.0" cy="231.1" r="1.1" fill="#a0e868" stroke="#0a1a06" stroke-width="0.55"/>
<circle cx="359.7" cy="219.9" r="1.1" fill="#a0e868" stroke="#0a1a06" stroke-width="0.55"/>
<circle cx="358.9" cy="186.7" r="1.1" fill="#a0e868" stroke="#0a1a06" stroke-width="0.55"/>
<circle cx="377.8" cy="222.4" r="1.1" fill="#a0e868" stroke="#0a1a06" stroke-width="0.55"/>
<circle cx="381.9" cy="215.8" r="1.1" fill="#a0e868" stroke="#0a1a06" stroke-width="0.55"/>
<circle cx="369.8" cy="234.1" r="1.1" fill="#a0e868" stroke="#0a1a06" stroke-width="0.55"/>
<circle cx="354.5" cy="191.1" r="1.1" fill="#a0e868" stroke="#0a1a06" stroke-width="0.55"/>
<circle cx="363.3" cy="178.8" r="1.1" fill="#a0e868" stroke="#0a1a06" stroke-width="0.55"/>
<circle cx="370.6" cy="228.6" r="1.1" fill="#a0e868" stroke="#0a1a06" stroke-width="0.55"/>
<circle cx="374.2" cy="221.2" r="1.1" fill="#a0e868" stroke="#0a1a06" stroke-width="0.55"/>
<circle cx="355.4" cy="187.4" r="1.1" fill="#a0e868" stroke="#0a1a06" stroke-width="0.55"/>
<circle cx="378.4" cy="186.3" r="1.1" fill="#a0e868" stroke="#0a1a06" stroke-width="0.55"/>
<circle cx="359.4" cy="171.2" r="1.1" fill="#a0e868" stroke="#0a1a06" stroke-width="0.55"/>
<circle cx="376.1" cy="225.6" r="1.1" fill="#a0e868" stroke="#0a1a06" stroke-width="0.55"/>
<circle cx="373.0" cy="224.4" r="1.1" fill="#a0e868" stroke="#0a1a06" stroke-width="0.55"/>
<circle cx="367.7" cy="210.4" r="1.1" fill="#a0e868" stroke="#0a1a06" stroke-width="0.55"/>
<circle cx="375.7" cy="207.6" r="1.1" fill="#a0e868" stroke="#0a1a06" stroke-width="0.55"/>
<circle cx="363.4" cy="169.9" r="1.1" fill="#a0e868" stroke="#0a1a06" stroke-width="0.55"/>
<circle cx="374.2" cy="229.1" r="1.1" fill="#a0e868" stroke="#0a1a06" stroke-width="0.55"/>
<circle cx="372.0" cy="236.6" r="1.1" fill="#a0e868" stroke="#0a1a06" stroke-width="0.55"/>
<circle cx="370.2" cy="234.8" r="1.1" fill="#a0e868" stroke="#0a1a06" stroke-width="0.55"/>
<circle cx="380.5" cy="168.2" r="1.1" fill="#a0e868" stroke="#0a1a06" stroke-width="0.55"/>
<circle cx="373.5" cy="206.2" r="1.1" fill="#a0e868" stroke="#0a1a06" stroke-width="0.55"/>
<circle cx="370.7" cy="229.7" r="1.1" fill="#a0e868" stroke="#0a1a06" stroke-width="0.55"/>
<circle cx="377.7" cy="203.4" r="1.1" fill="#a0e868" stroke="#0a1a06" stroke-width="0.55"/>
<circle cx="369.6" cy="230.4" r="1.1" fill="#a0e868" stroke="#0a1a06" stroke-width="0.55"/>
<circle cx="385.7" cy="203.8" r="1.1" fill="#a0e868" stroke="#0a1a06" stroke-width="0.55"/>
<circle cx="387.8" cy="206.5" r="1.1" fill="#a0e868" stroke="#0a1a06" stroke-width="0.55"/>
<circle cx="356.5" cy="194.3" r="1.1" fill="#a0e868" stroke="#0a1a06" stroke-width="0.55"/>
<circle cx="366.8" cy="231.5" r="1.1" fill="#a0e868" stroke="#0a1a06" stroke-width="0.55"/>
<circle cx="371.3" cy="233.4" r="1.1" fill="#a0e868" stroke="#0a1a06" stroke-width="0.55"/>
<circle cx="359.2" cy="165.7" r="1.1" fill="#a0e868" stroke="#0a1a06" stroke-width="0.55"/>
<circle cx="364.5" cy="177.3" r="1.1" fill="#a0e868" stroke="#0a1a06" stroke-width="0.55"/>
<circle cx="366.0" cy="206.3" r="1.1" fill="#a0e868" stroke="#0a1a06" stroke-width="0.55"/>
<circle cx="375.4" cy="218.2" r="1.1" fill="#a0e868" stroke="#0a1a06" stroke-width="0.55"/>
<circle cx="372.0" cy="228.4" r="1.1" fill="#a0e868" stroke="#0a1a06" stroke-width="0.55"/>
<circle cx="364.8" cy="195.1" r="1.1" fill="#a0e868" stroke="#0a1a06" stroke-width="0.55"/>
<circle cx="382.2" cy="217.9" r="1.1" fill="#a0e868" stroke="#0a1a06" stroke-width="0.55"/>
<circle cx="361.9" cy="193.8" r="1.1" fill="#a0e868" stroke="#0a1a06" stroke-width="0.55"/>
<circle cx="387.3" cy="205.3" r="1.1" fill="#a0e868" stroke="#0a1a06" stroke-width="0.55"/>
<circle cx="361.8" cy="169.6" r="1.1" fill="#a0e868" stroke="#0a1a06" stroke-width="0.55"/>
<circle cx="363.9" cy="209.0" r="1.1" fill="#a0e868" stroke="#0a1a06" stroke-width="0.55"/>
<circle cx="369.7" cy="213.9" r="1.1" fill="#a0e868" stroke="#0a1a06" stroke-width="0.55"/>
<circle cx="363.4" cy="186.5" r="1.1" fill="#a0e868" stroke="#0a1a06" stroke-width="0.55"/>
<circle cx="366.8" cy="210.9" r="1.1" fill="#a0e868" stroke="#0a1a06" stroke-width="0.55"/>
<circle cx="372.6" cy="236.1" r="1.1" fill="#a0e868" stroke="#0a1a06" stroke-width="0.55"/>
<circle cx="365.2" cy="205.2" r="1.1" fill="#a0e868" stroke="#0a1a06" stroke-width="0.55"/>
<circle cx="380.4" cy="212.2" r="1.1" fill="#a0e868" stroke="#0a1a06" stroke-width="0.55"/>
<circle cx="374.6" cy="207.2" r="1.1" fill="#a0e868" stroke="#0a1a06" stroke-width="0.55"/>
<circle cx="365.5" cy="210.0" r="1.1" fill="#a0e868" stroke="#0a1a06" stroke-width="0.55"/>
<circle cx="377.4" cy="204.0" r="1.1" fill="#a0e868" stroke="#0a1a06" stroke-width="0.55"/>
<circle cx="362.3" cy="188.3" r="1.1" fill="#a0e868" stroke="#0a1a06" stroke-width="0.55"/>
<circle cx="355.0" cy="204.4" r="1.1" fill="#a0e868" stroke="#0a1a06" stroke-width="0.55"/>
<circle cx="358.8" cy="219.7" r="1.1" fill="#a0e868" stroke="#0a1a06" stroke-width="0.55"/>
<circle cx="357.8" cy="195.3" r="1.1" fill="#a0e868" stroke="#0a1a06" stroke-width="0.55"/>
<circle cx="363.3" cy="209.8" r="1.1" fill="#a0e868" stroke="#0a1a06" stroke-width="0.55"/>
<circle cx="368.0" cy="209.7" r="1.1" fill="#a0e868" stroke="#0a1a06" stroke-width="0.55"/>
<circle cx="368.3" cy="227.2" r="1.1" fill="#a0e868" stroke="#0a1a06" stroke-width="0.55"/>
<circle cx="377.0" cy="210.6" r="1.1" fill="#a0e868" stroke="#0a1a06" stroke-width="0.55"/>
<circle cx="356.7" cy="170.0" r="1.1" fill="#a0e868" stroke="#0a1a06" stroke-width="0.55"/>
<circle cx="359.9" cy="194.2" r="1.1" fill="#a0e868" stroke="#0a1a06" stroke-width="0.55"/>
<circle cx="370.7" cy="236.1" r="1.1" fill="#a0e868" stroke="#0a1a06" stroke-width="0.55"/>
<circle cx="371.1" cy="236.0" r="1.1" fill="#a0e868" stroke="#0a1a06" stroke-width="0.55"/>
<circle cx="361.2" cy="181.9" r="1.1" fill="#a0e868" stroke="#0a1a06" stroke-width="0.55"/>
<circle cx="367.0" cy="222.4" r="1.1" fill="#a0e868" stroke="#0a1a06" stroke-width="0.55"/>
<circle cx="360.6" cy="176.6" r="1.1" fill="#a0e868" stroke="#0a1a06" stroke-width="0.55"/>
<circle cx="383.3" cy="213.2" r="1.1" fill="#a0e868" stroke="#0a1a06" stroke-width="0.55"/>
<circle cx="376.7" cy="207.3" r="1.1" fill="#a0e868" stroke="#0a1a06" stroke-width="0.55"/>
<circle cx="368.8" cy="220.5" r="1.1" fill="#a0e868" stroke="#0a1a06" stroke-width="0.55"/>
<circle cx="361.5" cy="193.7" r="1.1" fill="#a0e868" stroke="#0a1a06" stroke-width="0.55"/>
<circle cx="380.3" cy="165.2" r="1.1" fill="#a0e868" stroke="#0a1a06" stroke-width="0.55"/>
<circle cx="377.7" cy="217.8" r="1.1" fill="#a0e868" stroke="#0a1a06" stroke-width="0.55"/>
<circle cx="361.0" cy="216.6" r="1.1" fill="#a0e868" stroke="#0a1a06" stroke-width="0.55"/>
<circle cx="358.8" cy="217.9" r="1.1" fill="#a0e868" stroke="#0a1a06" stroke-width="0.55"/>
<circle cx="372.4" cy="216.4" r="1.1" fill="#a0e868" stroke="#0a1a06" stroke-width="0.55"/>
<circle cx="365.2" cy="188.6" r="1.1" fill="#a0e868" stroke="#0a1a06" stroke-width="0.55"/>
<circle cx="358.9" cy="205.3" r="1.1" fill="#a0e868" stroke="#0a1a06" stroke-width="0.55"/>
<circle cx="362.5" cy="221.1" r="1.1" fill="#a0e868" stroke="#0a1a06" stroke-width="0.55"/>
<circle cx="363.3" cy="197.8" r="1.1" fill="#a0e868" stroke="#0a1a06" stroke-width="0.55"/>
<circle cx="387.6" cy="207.8" r="1.1" fill="#a0e868" stroke="#0a1a06" stroke-width="0.55"/>
<circle cx="363.5" cy="215.0" r="1.1" fill="#a0e868" stroke="#0a1a06" stroke-width="0.55"/>
<circle cx="373.0" cy="224.5" r="1.1" fill="#a0e868" stroke="#0a1a06" stroke-width="0.55"/>
<circle cx="371.0" cy="227.4" r="1.1" fill="#a0e868" stroke="#0a1a06" stroke-width="0.55"/>
<circle cx="381.9" cy="208.2" r="1.1" fill="#a0e868" stroke="#0a1a06" stroke-width="0.55"/>
<circle cx="367.0" cy="201.0" r="1.1" fill="#a0e868" stroke="#0a1a06" stroke-width="0.55"/>
<circle cx="361.6" cy="208.6" r="1.1" fill="#a0e868" stroke="#0a1a06" stroke-width="0.55"/>
<circle cx="358.2" cy="192.1" r="1.1" fill="#a0e868" stroke="#0a1a06" stroke-width="0.55"/>
<circle cx="379.0" cy="178.7" r="1.1" fill="#a0e868" stroke="#0a1a06" stroke-width="0.55"/>
<circle cx="371.7" cy="232.9" r="1.1" fill="#a0e868" stroke="#0a1a06" stroke-width="0.55"/>
<circle cx="363.9" cy="169.3" r="1.1" fill="#a0e868" stroke="#0a1a06" stroke-width="0.55"/>
<circle cx="371.9" cy="236.7" r="1.1" fill="#a0e868" stroke="#0a1a06" stroke-width="0.55"/>
<circle cx="372.7" cy="225.9" r="1.1" fill="#a0e868" stroke="#0a1a06" stroke-width="0.55"/>
<circle cx="359.5" cy="209.9" r="1.1" fill="#a0e868" stroke="#0a1a06" stroke-width="0.55"/>
<circle cx="384.6" cy="216.1" r="1.1" fill="#a0e868" stroke="#0a1a06" stroke-width="0.55"/>
<circle cx="378.0" cy="228.3" r="1.1" fill="#a0e868" stroke="#0a1a06" stroke-width="0.55"/>
<circle cx="372.8" cy="236.5" r="1.1" fill="#a0e868" stroke="#0a1a06" stroke-width="0.55"/>
<circle cx="365.9" cy="215.8" r="1.1" fill="#a0e868" stroke="#0a1a06" stroke-width="0.55"/>
<circle cx="371.0" cy="234.9" r="1.1" fill="#a0e868" stroke="#0a1a06" stroke-width="0.55"/>
<circle cx="361.7" cy="223.3" r="1.1" fill="#a0e868" stroke="#0a1a06" stroke-width="0.55"/>
<circle cx="368.5" cy="229.5" r="1.1" fill="#a0e868" stroke="#0a1a06" stroke-width="0.55"/>
<circle cx="370.2" cy="206.2" r="1.1" fill="#a0e868" stroke="#0a1a06" stroke-width="0.55"/>
<circle cx="384.5" cy="203.6" r="1.1" fill="#a0e868" stroke="#0a1a06" stroke-width="0.55"/>
<circle cx="383.8" cy="212.5" r="1.1" fill="#a0e868" stroke="#0a1a06" stroke-width="0.55"/>
<circle cx="371.6" cy="236.1" r="1.1" fill="#a0e868" stroke="#0a1a06" stroke-width="0.55"/>
<circle cx="379.7" cy="225.6" r="1.1" fill="#a0e868" stroke="#0a1a06" stroke-width="0.55"/>
<circle cx="368.6" cy="214.3" r="1.1" fill="#a0e868" stroke="#0a1a06" stroke-width="0.55"/>
<circle cx="359.9" cy="198.1" r="1.1" fill="#a0e868" stroke="#0a1a06" stroke-width="0.55"/>
<circle cx="378.5" cy="224.5" r="1.1" fill="#a0e868" stroke="#0a1a06" stroke-width="0.55"/>
<circle cx="365.2" cy="214.3" r="1.1" fill="#a0e868" stroke="#0a1a06" stroke-width="0.55"/>
<circle cx="379.3" cy="221.1" r="1.1" fill="#a0e868" stroke="#0a1a06" stroke-width="0.55"/>
<circle cx="365.5" cy="188.0" r="1.1" fill="#a0e868" stroke="#0a1a06" stroke-width="0.55"/>
<circle cx="370.7" cy="216.0" r="1.1" fill="#a0e868" stroke="#0a1a06" stroke-width="0.55"/>
<circle cx="362.5" cy="224.3" r="1.1" fill="#a0e868" stroke="#0a1a06" stroke-width="0.55"/>
<circle cx="366.2" cy="221.8" r="1.1" fill="#a0e868" stroke="#0a1a06" stroke-width="0.55"/>
<circle cx="379.4" cy="216.6" r="1.1" fill="#a0e868" stroke="#0a1a06" stroke-width="0.55"/>
<circle cx="364.0" cy="221.6" r="1.1" fill="#a0e868" stroke="#0a1a06" stroke-width="0.55"/>
<circle cx="360.6" cy="214.2" r="1.1" fill="#a0e868" stroke="#0a1a06" stroke-width="0.55"/>
<circle cx="367.3" cy="218.3" r="1.1" fill="#a0e868" stroke="#0a1a06" stroke-width="0.55"/>
<circle cx="369.1" cy="210.8" r="1.1" fill="#a0e868" stroke="#0a1a06" stroke-width="0.55"/>
<circle cx="370.1" cy="223.9" r="1.1" fill="#a0e868" stroke="#0a1a06" stroke-width="0.55"/>
<circle cx="376.0" cy="232.5" r="1.1" fill="#a0e868" stroke="#0a1a06" stroke-width="0.55"/>
<circle cx="373.3" cy="235.8" r="1.1" fill="#a0e868" stroke="#0a1a06" stroke-width="0.55"/>
<circle cx="375.8" cy="207.6" r="1.1" fill="#a0e868" stroke="#0a1a06" stroke-width="0.55"/>
<circle cx="367.3" cy="226.9" r="1.1" fill="#a0e868" stroke="#0a1a06" stroke-width="0.55"/>
<circle cx="381.7" cy="178.9" r="1.1" fill="#a0e868" stroke="#0a1a06" stroke-width="0.55"/>
<circle cx="376.3" cy="219.2" r="1.1" fill="#a0e868" stroke="#0a1a06" stroke-width="0.55"/>
<circle cx="376.1" cy="216.8" r="1.1" fill="#a0e868" stroke="#0a1a06" stroke-width="0.55"/>
<circle cx="371.9" cy="234.2" r="1.1" fill="#a0e868" stroke="#0a1a06" stroke-width="0.55"/>
<circle cx="380.2" cy="176.3" r="1.1" fill="#a0e868" stroke="#0a1a06" stroke-width="0.55"/>
<circle cx="381.0" cy="205.8" r="1.1" fill="#a0e868" stroke="#0a1a06" stroke-width="0.55"/>
<circle cx="381.8" cy="222.1" r="1.1" fill="#a0e868" stroke="#0a1a06" stroke-width="0.55"/>
<circle cx="380.6" cy="215.5" r="1.1" fill="#a0e868" stroke="#0a1a06" stroke-width="0.55"/>
<circle cx="381.3" cy="226.2" r="1.1" fill="#a0e868" stroke="#0a1a06" stroke-width="0.55"/>
<circle cx="376.0" cy="229.4" r="1.1" fill="#a0e868" stroke="#0a1a06" stroke-width="0.55"/>
<circle cx="356.3" cy="204.3" r="1.1" fill="#a0e868" stroke="#0a1a06" stroke-width="0.55"/>
<circle cx="371.5" cy="235.8" r="1.1" fill="#a0e868" stroke="#0a1a06" stroke-width="0.55"/>
<circle cx="360.1" cy="213.0" r="1.1" fill="#a0e868" stroke="#0a1a06" stroke-width="0.55"/>
<circle cx="376.6" cy="231.7" r="1.1" fill="#a0e868" stroke="#0a1a06" stroke-width="0.55"/>
<circle cx="379.9" cy="215.9" r="1.1" fill="#a0e868" stroke="#0a1a06" stroke-width="0.55"/>
<circle cx="379.3" cy="213.3" r="1.1" fill="#a0e868" stroke="#0a1a06" stroke-width="0.55"/>
<circle cx="367.4" cy="195.4" r="1.1" fill="#a0e868" stroke="#0a1a06" stroke-width="0.55"/>
<circle cx="353.1" cy="195.6" r="1.1" fill="#a0e868" stroke="#0a1a06" stroke-width="0.55"/>
<circle cx="367.2" cy="174.6" r="1.1" fill="#a0e868" stroke="#0a1a06" stroke-width="0.55"/>
<circle cx="359.9" cy="181.6" r="1.1" fill="#a0e868" stroke="#0a1a06" stroke-width="0.55"/>
<circle cx="370.9" cy="236.2" r="1.1" fill="#a0e868" stroke="#0a1a06" stroke-width="0.55"/>
<circle cx="376.9" cy="221.5" r="1.1" fill="#a0e868" stroke="#0a1a06" stroke-width="0.55"/>
<circle cx="377.9" cy="225.9" r="1.1" fill="#a0e868" stroke="#0a1a06" stroke-width="0.55"/>
<circle cx="387.3" cy="56.5" r="1.85" fill="#921414" stroke="#100303" stroke-width="0.8"/>
<circle cx="357.9" cy="82.1" r="1.85" fill="#921414" stroke="#100303" stroke-width="0.8"/>
<circle cx="341.5" cy="93.5" r="1.85" fill="#921414" stroke="#100303" stroke-width="0.8"/>
<circle cx="357.5" cy="96.5" r="1.85" fill="#921414" stroke="#100303" stroke-width="0.8"/>
<circle cx="360.2" cy="95.5" r="1.85" fill="#921414" stroke="#100303" stroke-width="0.8"/>
<circle cx="331.9" cy="111.1" r="1.85" fill="#921414" stroke="#100303" stroke-width="0.8"/>
<circle cx="336.1" cy="109.2" r="1.85" fill="#921414" stroke="#100303" stroke-width="0.8"/>
<circle cx="339.6" cy="113.5" r="1.85" fill="#921414" stroke="#100303" stroke-width="0.8"/>
<circle cx="343.9" cy="110.8" r="1.85" fill="#921414" stroke="#100303" stroke-width="0.8"/>
<circle cx="346.2" cy="113.8" r="1.85" fill="#921414" stroke="#100303" stroke-width="0.8"/>
<circle cx="351.2" cy="114.6" r="1.85" fill="#921414" stroke="#100303" stroke-width="0.8"/>
<circle cx="357.3" cy="111.1" r="1.85" fill="#921414" stroke="#100303" stroke-width="0.8"/>
<circle cx="360.4" cy="113.1" r="1.85" fill="#921414" stroke="#100303" stroke-width="0.8"/>
<circle cx="358.2" cy="116.2" r="1.85" fill="#921414" stroke="#100303" stroke-width="0.8"/>
<circle cx="343.5" cy="119.8" r="1.85" fill="#921414" stroke="#100303" stroke-width="0.8"/>
<circle cx="347.7" cy="126.5" r="1.85" fill="#921414" stroke="#100303" stroke-width="0.8"/>
<circle cx="340.8" cy="130.8" r="1.85" fill="#921414" stroke="#100303" stroke-width="0.8"/>
<circle cx="363.5" cy="122.0" r="1.85" fill="#921414" stroke="#100303" stroke-width="0.8"/>
<circle cx="362.3" cy="127.7" r="1.85" fill="#921414" stroke="#100303" stroke-width="0.8"/>
<circle cx="361.2" cy="131.5" r="1.85" fill="#921414" stroke="#100303" stroke-width="0.8"/>
<circle cx="356.5" cy="132.3" r="1.85" fill="#921414" stroke="#100303" stroke-width="0.8"/>
<circle cx="360.8" cy="134.6" r="1.85" fill="#921414" stroke="#100303" stroke-width="0.8"/>
<circle cx="344.2" cy="139.2" r="1.85" fill="#921414" stroke="#100303" stroke-width="0.8"/>
<circle cx="352.7" cy="144.6" r="1.85" fill="#921414" stroke="#100303" stroke-width="0.8"/>
<circle cx="357.0" cy="143.0" r="1.85" fill="#921414" stroke="#100303" stroke-width="0.8"/>
<circle cx="361.5" cy="142.3" r="1.85" fill="#921414" stroke="#100303" stroke-width="0.8"/>
<circle cx="350.0" cy="146.9" r="1.85" fill="#921414" stroke="#100303" stroke-width="0.8"/>
<circle cx="335.6" cy="145.4" r="1.85" fill="#921414" stroke="#100303" stroke-width="0.8"/>
<circle cx="340.0" cy="148.5" r="1.85" fill="#921414" stroke="#100303" stroke-width="0.8"/>
<circle cx="335.7" cy="174.3" r="1.85" fill="#921414" stroke="#100303" stroke-width="0.8"/>
<circle cx="337.2" cy="180.4" r="1.85" fill="#921414" stroke="#100303" stroke-width="0.8"/>
<circle cx="330.2" cy="187.6" r="1.85" fill="#921414" stroke="#100303" stroke-width="0.8"/>
<circle cx="342.2" cy="210.2" r="1.85" fill="#921414" stroke="#100303" stroke-width="0.8"/>
<circle cx="349.5" cy="232.5" r="1.85" fill="#921414" stroke="#100303" stroke-width="0.8"/>
<circle cx="403.5" cy="118.5" r="1.85" fill="#921414" stroke="#100303" stroke-width="0.8"/>
<circle cx="400.8" cy="126.8" r="1.85" fill="#921414" stroke="#100303" stroke-width="0.8"/>
<circle cx="426.2" cy="132.6" r="1.85" fill="#921414" stroke="#100303" stroke-width="0.8"/>
<circle cx="417.9" cy="145.0" r="1.85" fill="#921414" stroke="#100303" stroke-width="0.8"/>
<circle cx="401.2" cy="156.5" r="1.85" fill="#921414" stroke="#100303" stroke-width="0.8"/>
<circle cx="397.1" cy="152.6" r="1.85" fill="#921414" stroke="#100303" stroke-width="0.8"/>
<circle cx="409.1" cy="161.4" r="1.85" fill="#921414" stroke="#100303" stroke-width="0.8"/>
<circle cx="398.5" cy="179.4" r="1.85" fill="#921414" stroke="#100303" stroke-width="0.8"/>
<circle cx="415.8" cy="186.5" r="1.85" fill="#921414" stroke="#100303" stroke-width="0.8"/>
<circle cx="406.8" cy="195.6" r="1.85" fill="#921414" stroke="#100303" stroke-width="0.8"/>
<circle cx="403.0" cy="200.6" r="1.85" fill="#921414" stroke="#100303" stroke-width="0.8"/>
<circle cx="411.8" cy="203.2" r="1.85" fill="#921414" stroke="#100303" stroke-width="0.8"/>
<circle cx="382.7" cy="110.8" r="1.85" fill="#921414" stroke="#100303" stroke-width="0.8"/>
<circle cx="385.4" cy="109.2" r="1.85" fill="#921414" stroke="#100303" stroke-width="0.8"/>
<circle cx="388.8" cy="110.4" r="1.85" fill="#921414" stroke="#100303" stroke-width="0.8"/>
<circle cx="391.2" cy="112.3" r="1.85" fill="#921414" stroke="#100303" stroke-width="0.8"/>
<circle cx="383.5" cy="117.7" r="1.85" fill="#921414" stroke="#100303" stroke-width="0.8"/>
<circle cx="387.7" cy="117.7" r="1.85" fill="#921414" stroke="#100303" stroke-width="0.8"/>
<circle cx="389.2" cy="122.3" r="1.85" fill="#921414" stroke="#100303" stroke-width="0.8"/>
<circle cx="393.5" cy="124.2" r="1.85" fill="#921414" stroke="#100303" stroke-width="0.8"/>
<circle cx="392.3" cy="128.5" r="1.85" fill="#921414" stroke="#100303" stroke-width="0.8"/>
<circle cx="384.2" cy="125.4" r="1.85" fill="#921414" stroke="#100303" stroke-width="0.8"/>
<circle cx="394.6" cy="218.5" r="1.75" fill="#d8f0cc" stroke="#0a1806" stroke-width="1.25"/>
<circle cx="354.0" cy="68.1" r="1.75" fill="#d8f0cc" stroke="#0a1806" stroke-width="1.25"/>
<circle cx="354.6" cy="74.8" r="1.75" fill="#d8f0cc" stroke="#0a1806" stroke-width="1.25"/>
<circle cx="280.4" cy="120.6" r="1.75" fill="#d8f0cc" stroke="#0a1806" stroke-width="1.25"/>
<circle cx="337.1" cy="160.1" r="1.75" fill="#d8f0cc" stroke="#0a1806" stroke-width="1.25"/>
<circle cx="423.5" cy="164.2" r="1.75" fill="#d8f0cc" stroke="#0a1806" stroke-width="1.25"/>
<circle cx="400.3" cy="191.8" r="1.75" fill="#d8f0cc" stroke="#0a1806" stroke-width="1.25"/>
<circle cx="362.1" cy="111.5" r="1.75" fill="#d8f0cc" stroke="#0a1806" stroke-width="1.25"/>
<circle cx="365.8" cy="127.2" r="1.75" fill="#d8f0cc" stroke="#0a1806" stroke-width="1.25"/>
<circle cx="362.7" cy="132.3" r="1.75" fill="#d8f0cc" stroke="#0a1806" stroke-width="1.25"/>
<circle cx="368.8" cy="136.2" r="1.75" fill="#d8f0cc" stroke="#0a1806" stroke-width="1.25"/>
<circle cx="338.9" cy="173.2" r="1.75" fill="#d8f0cc" stroke="#0a1806" stroke-width="1.25"/>
<circle cx="343.2" cy="173.5" r="1.75" fill="#d8f0cc" stroke="#0a1806" stroke-width="1.25"/>
<circle cx="338.6" cy="185.7" r="1.75" fill="#d8f0cc" stroke="#0a1806" stroke-width="1.25"/>
<circle cx="382.3" cy="120.8" r="1.75" fill="#d8f0cc" stroke="#0a1806" stroke-width="1.25"/>
<line x1="274.15" y1="30.0" x2="470.1" y2="30.0" stroke="#a8a8a8" stroke-width="1.3"/>
<line x1="470.1" y1="30.0" x2="470.1" y2="244.85" stroke="#a8a8a8" stroke-width="1.3"/>
<line x1="274.15" y1="29.4" x2="274.15" y2="245.85" stroke="#8a8a8a" stroke-width="1.9"/>
<line x1="273.15" y1="244.85" x2="470.70000000000005" y2="244.85" stroke="#6e6e6e" stroke-width="1.9"/>
<line x1="271.4" y1="237.6" x2="274.15" y2="237.6" stroke="#444" stroke-width="0.9"/>
<line x1="272.4" y1="208.5" x2="274.15" y2="208.5" stroke="#444" stroke-width="0.7"/>
<line x1="272.4" y1="215.8" x2="274.15" y2="215.8" stroke="#444" stroke-width="0.7"/>
<line x1="272.4" y1="221.0" x2="274.15" y2="221.0" stroke="#444" stroke-width="0.7"/>
<line x1="272.4" y1="225.1" x2="274.15" y2="225.1" stroke="#444" stroke-width="0.7"/>
<line x1="272.4" y1="228.4" x2="274.15" y2="228.4" stroke="#444" stroke-width="0.7"/>
<line x1="272.4" y1="231.2" x2="274.15" y2="231.2" stroke="#444" stroke-width="0.7"/>
<line x1="272.4" y1="233.6" x2="274.15" y2="233.6" stroke="#444" stroke-width="0.7"/>
<line x1="272.4" y1="235.7" x2="274.15" y2="235.7" stroke="#444" stroke-width="0.7"/>
<line x1="271.4" y1="196.0" x2="274.15" y2="196.0" stroke="#444" stroke-width="0.9"/>
<line x1="272.4" y1="166.9" x2="274.15" y2="166.9" stroke="#444" stroke-width="0.7"/>
<line x1="272.4" y1="174.2" x2="274.15" y2="174.2" stroke="#444" stroke-width="0.7"/>
<line x1="272.4" y1="179.4" x2="274.15" y2="179.4" stroke="#444" stroke-width="0.7"/>
<line x1="272.4" y1="183.5" x2="274.15" y2="183.5" stroke="#444" stroke-width="0.7"/>
<line x1="272.4" y1="186.8" x2="274.15" y2="186.8" stroke="#444" stroke-width="0.7"/>
<line x1="272.4" y1="189.6" x2="274.15" y2="189.6" stroke="#444" stroke-width="0.7"/>
<line x1="272.4" y1="192.0" x2="274.15" y2="192.0" stroke="#444" stroke-width="0.7"/>
<line x1="272.4" y1="194.1" x2="274.15" y2="194.1" stroke="#444" stroke-width="0.7"/>
<line x1="271.4" y1="154.4" x2="274.15" y2="154.4" stroke="#444" stroke-width="0.9"/>
<line x1="272.4" y1="125.3" x2="274.15" y2="125.3" stroke="#444" stroke-width="0.7"/>
<line x1="272.4" y1="132.6" x2="274.15" y2="132.6" stroke="#444" stroke-width="0.7"/>
<line x1="272.4" y1="137.8" x2="274.15" y2="137.8" stroke="#444" stroke-width="0.7"/>
<line x1="272.4" y1="141.9" x2="274.15" y2="141.9" stroke="#444" stroke-width="0.7"/>
<line x1="272.4" y1="145.2" x2="274.15" y2="145.2" stroke="#444" stroke-width="0.7"/>
<line x1="272.4" y1="148.0" x2="274.15" y2="148.0" stroke="#444" stroke-width="0.7"/>
<line x1="272.4" y1="150.4" x2="274.15" y2="150.4" stroke="#444" stroke-width="0.7"/>
<line x1="272.4" y1="152.5" x2="274.15" y2="152.5" stroke="#444" stroke-width="0.7"/>
<line x1="271.4" y1="112.8" x2="274.15" y2="112.8" stroke="#444" stroke-width="0.9"/>
<line x1="272.4" y1="83.7" x2="274.15" y2="83.7" stroke="#444" stroke-width="0.7"/>
<line x1="272.4" y1="91.0" x2="274.15" y2="91.0" stroke="#444" stroke-width="0.7"/>
<line x1="272.4" y1="96.2" x2="274.15" y2="96.2" stroke="#444" stroke-width="0.7"/>
<line x1="272.4" y1="100.3" x2="274.15" y2="100.3" stroke="#444" stroke-width="0.7"/>
<line x1="272.4" y1="103.6" x2="274.15" y2="103.6" stroke="#444" stroke-width="0.7"/>
<line x1="272.4" y1="106.4" x2="274.15" y2="106.4" stroke="#444" stroke-width="0.7"/>
<line x1="272.4" y1="108.8" x2="274.15" y2="108.8" stroke="#444" stroke-width="0.7"/>
<line x1="272.4" y1="110.9" x2="274.15" y2="110.9" stroke="#444" stroke-width="0.7"/>
<line x1="271.4" y1="71.2" x2="274.15" y2="71.2" stroke="#444" stroke-width="0.9"/>
<line x1="272.4" y1="42.1" x2="274.15" y2="42.1" stroke="#444" stroke-width="0.7"/>
<line x1="272.4" y1="49.4" x2="274.15" y2="49.4" stroke="#444" stroke-width="0.7"/>
<line x1="272.4" y1="54.6" x2="274.15" y2="54.6" stroke="#444" stroke-width="0.7"/>
<line x1="272.4" y1="58.7" x2="274.15" y2="58.7" stroke="#444" stroke-width="0.7"/>
<line x1="272.4" y1="62.0" x2="274.15" y2="62.0" stroke="#444" stroke-width="0.7"/>
<line x1="272.4" y1="64.8" x2="274.15" y2="64.8" stroke="#444" stroke-width="0.7"/>
<line x1="272.4" y1="67.2" x2="274.15" y2="67.2" stroke="#444" stroke-width="0.7"/>
<line x1="272.4" y1="69.3" x2="274.15" y2="69.3" stroke="#444" stroke-width="0.7"/>
<line x1="271.4" y1="29.6" x2="274.15" y2="29.6" stroke="#444" stroke-width="0.9"/>
<text x="259.2" y="198.9" font-size="8.2" font-weight="bold" fill="#111" text-anchor="end" textLength="9" lengthAdjust="spacingAndGlyphs">10</text>
<text x="259.4" y="196.9" font-size="7.8" font-weight="bold" fill="#111" textLength="9.4" lengthAdjust="spacingAndGlyphs">−1</text>
<text x="259.2" y="157.3" font-size="8.2" font-weight="bold" fill="#111" text-anchor="end" textLength="9" lengthAdjust="spacingAndGlyphs">10</text>
<text x="259.4" y="155.3" font-size="7.8" font-weight="bold" fill="#111" textLength="9.4" lengthAdjust="spacingAndGlyphs">−2</text>
<text x="259.2" y="115.7" font-size="8.2" font-weight="bold" fill="#111" text-anchor="end" textLength="9" lengthAdjust="spacingAndGlyphs">10</text>
<text x="259.4" y="113.7" font-size="7.8" font-weight="bold" fill="#111" textLength="9.4" lengthAdjust="spacingAndGlyphs">−3</text>
<text x="259.2" y="74.1" font-size="8.2" font-weight="bold" fill="#111" text-anchor="end" textLength="9" lengthAdjust="spacingAndGlyphs">10</text>
<text x="259.4" y="72.1" font-size="7.8" font-weight="bold" fill="#111" textLength="9.4" lengthAdjust="spacingAndGlyphs">−4</text>
<text x="259.2" y="32.5" font-size="8.2" font-weight="bold" fill="#111" text-anchor="end" textLength="9" lengthAdjust="spacingAndGlyphs">10</text>
<text x="259.4" y="30.5" font-size="7.8" font-weight="bold" fill="#111" textLength="9.4" lengthAdjust="spacingAndGlyphs">−5</text>
<text x="268.3" y="240.5" font-size="8.2" font-weight="bold" fill="#111" text-anchor="end">1</text>
<line x1="274.0" y1="244.85" x2="274.0" y2="247.04999999999998" stroke="#444" stroke-width="0.9"/>
<line x1="298.5" y1="244.85" x2="298.5" y2="247.04999999999998" stroke="#444" stroke-width="0.9"/>
<line x1="323.0" y1="244.85" x2="323.0" y2="247.04999999999998" stroke="#444" stroke-width="0.9"/>
<line x1="347.5" y1="244.85" x2="347.5" y2="247.04999999999998" stroke="#444" stroke-width="0.9"/>
<line x1="372.0" y1="244.85" x2="372.0" y2="247.04999999999998" stroke="#444" stroke-width="0.9"/>
<line x1="396.5" y1="244.85" x2="396.5" y2="247.04999999999998" stroke="#444" stroke-width="0.9"/>
<line x1="421.0" y1="244.85" x2="421.0" y2="247.04999999999998" stroke="#444" stroke-width="0.9"/>
<line x1="445.5" y1="244.85" x2="445.5" y2="247.04999999999998" stroke="#444" stroke-width="0.9"/>
<line x1="470.0" y1="244.85" x2="470.0" y2="247.04999999999998" stroke="#444" stroke-width="0.9"/>
<text x="274.0" y="253.6" font-size="6.8" font-weight="bold" fill="#222" text-anchor="middle">−2</text>
<text x="323.0" y="253.6" font-size="6.8" font-weight="bold" fill="#222" text-anchor="middle">−1</text>
<text x="372.0" y="253.6" font-size="6.8" font-weight="bold" fill="#222" text-anchor="middle">0</text>
<text x="421.0" y="253.6" font-size="6.8" font-weight="bold" fill="#222" text-anchor="middle">1</text>
<text x="470.0" y="253.6" font-size="6.8" font-weight="bold" fill="#222" text-anchor="middle">2</text>
<text x="257.2" y="262.8" font-size="9.4" font-weight="bold" fill="#111"><tspan textLength="94.5" lengthAdjust="spacingAndGlyphs">Difference in mean log</tspan><tspan font-size="6.6" dy="2.9" dx="0.8" textLength="7.5" lengthAdjust="spacingAndGlyphs">10</tspan><tspan dy="-2.9" textLength="126" lengthAdjust="spacingAndGlyphs"> GI50 between mutant and WT</tspan></text>
<text transform="translate(242.7,136.9) rotate(-90)" x="0" y="0" font-size="10.4" font-weight="bold" fill="#111" text-anchor="middle" textLength="113.8" lengthAdjust="spacingAndGlyphs">Statistical significance</text>
<text x="284.6" y="48.0" font-size="11.4" font-weight="bold" fill="#d2202c" textLength="28" lengthAdjust="spacingAndGlyphs">TP53</text>
<line x1="354" y1="60" x2="354" y2="65.8" stroke="#111" stroke-width="0.85" marker-end="url(#ah)"/>
<line x1="345.9" y1="79" x2="352.4" y2="75.6" stroke="#111" stroke-width="0.85" marker-end="url(#ah)"/>
<line x1="399" y1="50" x2="390.3" y2="54.6" stroke="#111" stroke-width="0.85" marker-end="url(#ah)"/>
<line x1="276" y1="127.3" x2="279" y2="122.5" stroke="#111" stroke-width="0.85" marker-end="url(#ah)"/>
<line x1="329.9" y1="156" x2="335.4" y2="159.6" stroke="#111" stroke-width="0.85" marker-end="url(#ah)"/>
<line x1="332.7" y1="214.8" x2="341.9" y2="209.6" stroke="#111" stroke-width="0.85" marker-end="url(#ah)"/>
<line x1="343.7" y1="227.2" x2="353.5" y2="219.8" stroke="#111" stroke-width="0.85" marker-end="url(#ah)"/>
<line x1="398.8" y1="209.5" x2="391.5" y2="204.5" stroke="#111" stroke-width="0.85" marker-end="url(#ah)"/>
<line x1="394.5" y1="224" x2="387.5" y2="218.5" stroke="#111" stroke-width="0.85" marker-end="url(#ah)"/>
<rect x="339.2" y="50.4" width="26.7" height="9.6" fill="#fff" stroke="#222" stroke-width="1.15"/><text x="352.5" y="57.3" font-size="5.6" font-weight="bold" font-style="normal" fill="#c8304e" text-anchor="middle" textLength="20.2" lengthAdjust="spacingAndGlyphs">Nutlin-3</text>
<rect x="322" y="74.3" width="23.9" height="9.8" fill="#fff" stroke="#222" stroke-width="1.15"/><text x="333.9" y="81.3" font-size="5.6" font-weight="bold" font-style="normal" fill="#c8304e" text-anchor="middle" textLength="17.3" lengthAdjust="spacingAndGlyphs">MI-219</text>
<rect x="384" y="40" width="36.9" height="10.0" fill="#fff" stroke="#222" stroke-width="1.15"/><text x="402.4" y="47.1" font-size="6.1" font-weight="normal" font-style="italic" fill="#3a3a3a" text-anchor="middle" textLength="32.7" lengthAdjust="spacingAndGlyphs">NSC-670177</text>
<rect x="258.6" y="127.1" width="34.0" height="9.1" fill="#fff" stroke="#222" stroke-width="1.15"/><text x="275.6" y="133.7" font-size="6.1" font-weight="normal" font-style="normal" fill="#3a3a3a" text-anchor="middle" textLength="29.9" lengthAdjust="spacingAndGlyphs">Mithramycin</text>
<rect x="282.4" y="149.4" width="47.5" height="10.0" fill="#fff" stroke="#222" stroke-width="1.15"/><text x="306.1" y="156.5" font-size="6.1" font-weight="normal" font-style="italic" fill="#c83a6a" text-anchor="middle" textLength="43.9" lengthAdjust="spacingAndGlyphs">Thiophene (RITA)</text>
<rect x="311.2" y="214.8" width="34.7" height="9.7" fill="#fff" stroke="#222" stroke-width="1.15"/><text x="328.5" y="221.8" font-size="6.1" font-weight="normal" font-style="normal" fill="#3a3a3a" text-anchor="middle" textLength="30.4" lengthAdjust="spacingAndGlyphs">Pemetrexed</text>
<rect x="321.4" y="227.2" width="30.0" height="9.7" fill="#fff" stroke="#222" stroke-width="1.15"/><text x="336.4" y="234.2" font-size="6.1" font-weight="normal" font-style="normal" fill="#3a3a3a" text-anchor="middle" textLength="26.3" lengthAdjust="spacingAndGlyphs">Oxaliplatin</text>
<rect x="398.8" y="206" width="28.9" height="9.4" fill="#fff" stroke="#222" stroke-width="1.15"/><text x="413.2" y="212.8" font-size="6.1" font-weight="normal" font-style="normal" fill="#3a3a3a" text-anchor="middle" textLength="24.5" lengthAdjust="spacingAndGlyphs">Etoposide</text>
<rect x="394.5" y="221.5" width="29.3" height="9.7" fill="#fff" stroke="#222" stroke-width="1.15"/><text x="409.1" y="228.4" font-size="6.1" font-weight="normal" font-style="normal" fill="#3a3a3a" text-anchor="middle" textLength="25.0" lengthAdjust="spacingAndGlyphs">Docetaxel</text>
<text x="73.8" y="288.2" font-size="16.4" font-weight="bold" fill="#111">C</text>
<text x="196.8" y="288.4" font-size="12.8" font-weight="bold" fill="#111">D</text>
<text x="224.6" y="288.4" font-size="16.4" font-weight="bold" fill="#111">E</text>
<text x="350.6" y="288.4" font-size="16.4" font-weight="bold" fill="#111">F</text>
<rect x="79.6" y="292.8" width="112.0" height="342.4" fill="#fdf6e7"/>
<rect x="200.0" y="292.8" width="21.4" height="342.4" fill="#fdf6e7"/>
<rect x="230.2" y="292.8" width="112.5" height="342.4" fill="#fdf6e7"/>
<rect x="351.5" y="292.8" width="97.0" height="342.4" fill="#fdf6e7"/>
<rect x="118.2" y="295.20" width="73.4" height="3.6" fill="#2040d0" stroke="#0a1450" stroke-width="0.8"/>
<rect x="200.0" y="295.20" width="21.4" height="3.6" fill="#2040d0" stroke="#0a1450" stroke-width="0.8"/>
<rect x="230.2" y="295.20" width="47.7" height="3.6" fill="#2040d0" stroke="#0a1450" stroke-width="0.8"/>
<rect x="351.5" y="295.20" width="61.4" height="3.6" fill="#2040d0" stroke="#0a1450" stroke-width="0.8"/>
<rect x="172.9" y="300.87" width="18.7" height="3.6" fill="#2040d0" stroke="#0a1450" stroke-width="0.8"/>
<rect x="230.2" y="300.87" width="5.5" height="3.6" fill="#2040d0" stroke="#0a1450" stroke-width="0.8"/>
<rect x="351.5" y="300.87" width="27.5" height="3.6" fill="#2040d0" stroke="#0a1450" stroke-width="0.8"/>
<rect x="178.7" y="306.54" width="12.9" height="3.6" fill="#2040d0" stroke="#0a1450" stroke-width="0.8"/>
<rect x="230.2" y="306.54" width="0.9" height="3.6" fill="#2040d0" stroke="#0a1450" stroke-width="0.8"/>
<rect x="351.5" y="306.54" width="23.4" height="3.6" fill="#2040d0" stroke="#0a1450" stroke-width="0.8"/>
<rect x="175.2" y="312.22" width="16.4" height="3.6" fill="#2040d0" stroke="#0a1450" stroke-width="0.8"/>
<rect x="230.2" y="312.22" width="11.5" height="3.6" fill="#2040d0" stroke="#0a1450" stroke-width="0.8"/>
<rect x="351.5" y="312.22" width="24.5" height="3.6" fill="#2040d0" stroke="#0a1450" stroke-width="0.8"/>
<rect x="174.1" y="317.89" width="17.5" height="3.6" fill="#2040d0" stroke="#0a1450" stroke-width="0.8"/>
<rect x="230.2" y="317.89" width="46.1" height="3.6" fill="#2040d0" stroke="#0a1450" stroke-width="0.8"/>
<rect x="351.5" y="317.89" width="75.4" height="3.6" fill="#2040d0" stroke="#0a1450" stroke-width="0.8"/>
<rect x="174.5" y="323.56" width="17.1" height="3.6" fill="#9eaaa8" stroke="#283030" stroke-width="0.8"/>
<rect x="230.2" y="323.56" width="7.3" height="3.6" fill="#bcc6c4" stroke="#283030" stroke-width="0.8"/>
<rect x="351.5" y="323.56" width="7.1" height="3.6" fill="#72827e" stroke="#283030" stroke-width="0.8"/>
<rect x="175.7" y="329.23" width="15.9" height="3.6" fill="#9eaaa8" stroke="#283030" stroke-width="0.8"/>
<rect x="230.2" y="329.23" width="3.9" height="3.6" fill="#bcc6c4" stroke="#283030" stroke-width="0.8"/>
<rect x="351.5" y="329.23" width="12.2" height="3.6" fill="#72827e" stroke="#283030" stroke-width="0.8"/>
<rect x="182.6" y="334.90" width="9.0" height="3.6" fill="#9eaaa8" stroke="#283030" stroke-width="0.8"/>
<rect x="351.5" y="334.90" width="13.3" height="3.6" fill="#72827e" stroke="#283030" stroke-width="0.8"/>
<rect x="174.1" y="340.58" width="17.5" height="3.6" fill="#9eaaa8" stroke="#283030" stroke-width="0.8"/>
<rect x="230.2" y="340.58" width="30.0" height="3.6" fill="#bcc6c4" stroke="#283030" stroke-width="0.8"/>
<rect x="351.5" y="340.58" width="47.1" height="3.6" fill="#72827e" stroke="#283030" stroke-width="0.8"/>
<rect x="170.6" y="346.25" width="21.0" height="3.6" fill="#9eaaa8" stroke="#283030" stroke-width="0.8"/>
<rect x="230.2" y="346.25" width="0.9" height="3.6" fill="#bcc6c4" stroke="#283030" stroke-width="0.8"/>
<rect x="351.5" y="346.25" width="15.7" height="3.6" fill="#72827e" stroke="#283030" stroke-width="0.8"/>
<rect x="174.5" y="351.92" width="17.1" height="3.6" fill="#9eaaa8" stroke="#283030" stroke-width="0.8"/>
<rect x="230.2" y="351.92" width="14.7" height="3.6" fill="#bcc6c4" stroke="#283030" stroke-width="0.8"/>
<rect x="351.5" y="351.92" width="23.6" height="3.6" fill="#72827e" stroke="#283030" stroke-width="0.8"/>
<rect x="177.5" y="357.59" width="14.1" height="3.6" fill="#e67d1e" stroke="#4a2404" stroke-width="0.8"/>
<rect x="230.2" y="357.59" width="17.3" height="3.6" fill="#e67d1e" stroke="#4a2404" stroke-width="0.8"/>
<rect x="351.5" y="357.59" width="62.8" height="3.6" fill="#e67d1e" stroke="#4a2404" stroke-width="0.8"/>
<rect x="230.2" y="363.26" width="3.2" height="3.6" fill="#e67d1e" stroke="#4a2404" stroke-width="0.8"/>
<rect x="351.5" y="363.26" width="7.1" height="3.6" fill="#e67d1e" stroke="#4a2404" stroke-width="0.8"/>
<rect x="134.2" y="368.94" width="57.4" height="3.6" fill="#e67d1e" stroke="#4a2404" stroke-width="0.8"/>
<rect x="200.0" y="368.94" width="21.4" height="3.6" fill="#e67d1e" stroke="#4a2404" stroke-width="0.8"/>
<rect x="230.2" y="368.94" width="37.3" height="3.6" fill="#e67d1e" stroke="#4a2404" stroke-width="0.8"/>
<rect x="351.5" y="368.94" width="58.3" height="3.6" fill="#e67d1e" stroke="#4a2404" stroke-width="0.8"/>
<rect x="174.8" y="374.61" width="16.8" height="3.6" fill="#e67d1e" stroke="#4a2404" stroke-width="0.8"/>
<rect x="230.2" y="374.61" width="30.4" height="3.6" fill="#e67d1e" stroke="#4a2404" stroke-width="0.8"/>
<rect x="351.5" y="374.61" width="44.8" height="3.6" fill="#e67d1e" stroke="#4a2404" stroke-width="0.8"/>
<rect x="173.4" y="380.28" width="18.2" height="3.6" fill="#e67d1e" stroke="#4a2404" stroke-width="0.8"/>
<rect x="230.2" y="380.28" width="18.4" height="3.6" fill="#e67d1e" stroke="#4a2404" stroke-width="0.8"/>
<rect x="351.5" y="380.28" width="54.2" height="3.6" fill="#e67d1e" stroke="#4a2404" stroke-width="0.8"/>
<rect x="175.7" y="385.95" width="15.9" height="3.6" fill="#e67d1e" stroke="#4a2404" stroke-width="0.8"/>
<rect x="230.2" y="385.95" width="9.2" height="3.6" fill="#e67d1e" stroke="#4a2404" stroke-width="0.8"/>
<rect x="351.5" y="385.95" width="42.8" height="3.6" fill="#e67d1e" stroke="#4a2404" stroke-width="0.8"/>
<rect x="178.2" y="391.62" width="13.4" height="3.6" fill="#e67d1e" stroke="#4a2404" stroke-width="0.8"/>
<rect x="230.2" y="391.62" width="3.2" height="3.6" fill="#e67d1e" stroke="#4a2404" stroke-width="0.8"/>
<rect x="351.5" y="391.62" width="18.6" height="3.6" fill="#e67d1e" stroke="#4a2404" stroke-width="0.8"/>
<rect x="178.7" y="397.30" width="12.9" height="3.6" fill="#9ef6c8" stroke="#1a4a30" stroke-width="0.8"/>
<rect x="230.2" y="397.30" width="20.0" height="3.6" fill="#9ef6c8" stroke="#1a4a30" stroke-width="0.8"/>
<rect x="351.5" y="397.30" width="7.7" height="3.6" fill="#9ef6c8" stroke="#1a4a30" stroke-width="0.8"/>
<rect x="188.6" y="402.97" width="3.0" height="3.6" fill="#9ef6c8" stroke="#1a4a30" stroke-width="0.8"/>
<rect x="230.2" y="402.97" width="6.9" height="3.6" fill="#9ef6c8" stroke="#1a4a30" stroke-width="0.8"/>
<rect x="351.5" y="402.97" width="11.2" height="3.6" fill="#9ef6c8" stroke="#1a4a30" stroke-width="0.8"/>
<rect x="183.5" y="408.64" width="8.1" height="3.6" fill="#9ef6c8" stroke="#1a4a30" stroke-width="0.8"/>
<rect x="230.2" y="408.64" width="21.2" height="3.6" fill="#9ef6c8" stroke="#1a4a30" stroke-width="0.8"/>
<rect x="351.5" y="408.64" width="28.7" height="3.6" fill="#9ef6c8" stroke="#1a4a30" stroke-width="0.8"/>
<rect x="141.1" y="414.31" width="50.5" height="3.6" fill="#9ef6c8" stroke="#1a4a30" stroke-width="0.8"/>
<rect x="230.2" y="414.31" width="35.0" height="3.6" fill="#9ef6c8" stroke="#1a4a30" stroke-width="0.8"/>
<rect x="351.5" y="414.31" width="47.1" height="3.6" fill="#9ef6c8" stroke="#1a4a30" stroke-width="0.8"/>
<rect x="181.7" y="419.98" width="9.9" height="3.6" fill="#9ef6c8" stroke="#1a4a30" stroke-width="0.8"/>
<rect x="230.2" y="419.98" width="41.5" height="3.6" fill="#9ef6c8" stroke="#1a4a30" stroke-width="0.8"/>
<rect x="351.5" y="419.98" width="46.5" height="3.6" fill="#9ef6c8" stroke="#1a4a30" stroke-width="0.8"/>
<rect x="93.3" y="425.66" width="98.3" height="3.6" fill="#9ef6c8" stroke="#1a4a30" stroke-width="0.8"/>
<rect x="200.0" y="425.66" width="21.4" height="3.6" fill="#9ef6c8" stroke="#1a4a30" stroke-width="0.8"/>
<rect x="230.2" y="425.66" width="39.2" height="3.6" fill="#9ef6c8" stroke="#1a4a30" stroke-width="0.8"/>
<rect x="351.5" y="425.66" width="68.3" height="3.6" fill="#9ef6c8" stroke="#1a4a30" stroke-width="0.8"/>
<rect x="127.2" y="431.33" width="64.4" height="3.6" fill="#2ab42a" stroke="#063006" stroke-width="0.8"/>
<rect x="200.0" y="431.33" width="21.4" height="3.6" fill="#2ab42a" stroke="#063006" stroke-width="0.8"/>
<rect x="230.2" y="431.33" width="42.4" height="3.6" fill="#2ab42a" stroke="#063006" stroke-width="0.8"/>
<rect x="351.5" y="431.33" width="57.3" height="3.6" fill="#2ab42a" stroke="#063006" stroke-width="0.8"/>
<rect x="116.4" y="437.00" width="75.2" height="3.6" fill="#2ab42a" stroke="#063006" stroke-width="0.8"/>
<rect x="200.0" y="437.00" width="21.4" height="3.6" fill="#2ab42a" stroke="#063006" stroke-width="0.8"/>
<rect x="230.2" y="437.00" width="58.1" height="3.6" fill="#2ab42a" stroke="#063006" stroke-width="0.8"/>
<rect x="351.5" y="437.00" width="81.1" height="3.6" fill="#2ab42a" stroke="#063006" stroke-width="0.8"/>
<rect x="180.3" y="442.67" width="11.3" height="3.6" fill="#2ab42a" stroke="#063006" stroke-width="0.8"/>
<rect x="230.2" y="442.67" width="16.1" height="3.6" fill="#2ab42a" stroke="#063006" stroke-width="0.8"/>
<rect x="351.5" y="442.67" width="11.8" height="3.6" fill="#2ab42a" stroke="#063006" stroke-width="0.8"/>
<rect x="178.7" y="448.34" width="12.9" height="3.6" fill="#2ab42a" stroke="#063006" stroke-width="0.8"/>
<rect x="230.2" y="448.34" width="18.2" height="3.6" fill="#2ab42a" stroke="#063006" stroke-width="0.8"/>
<rect x="351.5" y="448.34" width="43.8" height="3.6" fill="#2ab42a" stroke="#063006" stroke-width="0.8"/>
<rect x="175.7" y="454.02" width="15.9" height="3.6" fill="#2ab42a" stroke="#063006" stroke-width="0.8"/>
<rect x="230.2" y="454.02" width="22.3" height="3.6" fill="#2ab42a" stroke="#063006" stroke-width="0.8"/>
<rect x="351.5" y="454.02" width="78.1" height="3.6" fill="#2ab42a" stroke="#063006" stroke-width="0.8"/>
<rect x="154.5" y="459.69" width="37.1" height="3.6" fill="#2ab42a" stroke="#063006" stroke-width="0.8"/>
<rect x="200.0" y="459.69" width="21.4" height="3.6" fill="#2ab42a" stroke="#063006" stroke-width="0.8"/>
<rect x="230.2" y="459.69" width="12.0" height="3.6" fill="#2ab42a" stroke="#063006" stroke-width="0.8"/>
<rect x="351.5" y="459.69" width="72.0" height="3.6" fill="#2ab42a" stroke="#063006" stroke-width="0.8"/>
<rect x="116.4" y="465.36" width="75.2" height="3.6" fill="#2ab42a" stroke="#063006" stroke-width="0.8"/>
<rect x="200.0" y="465.36" width="21.4" height="3.6" fill="#2ab42a" stroke="#063006" stroke-width="0.8"/>
<rect x="230.2" y="465.36" width="84.2" height="3.6" fill="#2ab42a" stroke="#063006" stroke-width="0.8"/>
<rect x="351.5" y="465.36" width="90.7" height="3.6" fill="#2ab42a" stroke="#063006" stroke-width="0.8"/>
<rect x="100.2" y="471.03" width="91.4" height="3.6" fill="#2ab42a" stroke="#063006" stroke-width="0.8"/>
<rect x="200.0" y="471.03" width="21.4" height="3.6" fill="#2ab42a" stroke="#063006" stroke-width="0.8"/>
<rect x="230.2" y="471.03" width="60.0" height="3.6" fill="#2ab42a" stroke="#063006" stroke-width="0.8"/>
<rect x="351.5" y="471.03" width="67.5" height="3.6" fill="#2ab42a" stroke="#063006" stroke-width="0.8"/>
<rect x="176.4" y="476.70" width="15.2" height="3.6" fill="#2ab42a" stroke="#063006" stroke-width="0.8"/>
<rect x="230.2" y="476.70" width="12.4" height="3.6" fill="#2ab42a" stroke="#063006" stroke-width="0.8"/>
<rect x="351.5" y="476.70" width="10.8" height="3.6" fill="#2ab42a" stroke="#063006" stroke-width="0.8"/>
<rect x="230.2" y="482.38" width="11.5" height="3.6" fill="#2ab42a" stroke="#063006" stroke-width="0.8"/>
<rect x="351.5" y="482.38" width="10.4" height="3.6" fill="#2ab42a" stroke="#063006" stroke-width="0.8"/>
<rect x="133.2" y="488.05" width="58.4" height="3.6" fill="#4d92e0" stroke="#0e2e50" stroke-width="0.8"/>
<rect x="200.0" y="488.05" width="21.4" height="3.6" fill="#4d92e0" stroke="#0e2e50" stroke-width="0.8"/>
<rect x="230.2" y="488.05" width="18.2" height="3.6" fill="#4d92e0" stroke="#0e2e50" stroke-width="0.8"/>
<rect x="351.5" y="488.05" width="72.0" height="3.6" fill="#4d92e0" stroke="#0e2e50" stroke-width="0.8"/>
<rect x="167.6" y="493.72" width="24.0" height="3.6" fill="#4d92e0" stroke="#0e2e50" stroke-width="0.8"/>
<rect x="230.2" y="493.72" width="2.7" height="3.6" fill="#4d92e0" stroke="#0e2e50" stroke-width="0.8"/>
<rect x="351.5" y="493.72" width="42.8" height="3.6" fill="#4d92e0" stroke="#0e2e50" stroke-width="0.8"/>
<rect x="176.9" y="499.39" width="14.7" height="3.6" fill="#4d92e0" stroke="#0e2e50" stroke-width="0.8"/>
<rect x="230.2" y="499.39" width="18.2" height="3.6" fill="#4d92e0" stroke="#0e2e50" stroke-width="0.8"/>
<rect x="351.5" y="499.39" width="45.9" height="3.6" fill="#4d92e0" stroke="#0e2e50" stroke-width="0.8"/>
<rect x="230.2" y="505.06" width="16.1" height="3.6" fill="#4d92e0" stroke="#0e2e50" stroke-width="0.8"/>
<rect x="351.5" y="505.06" width="58.7" height="3.6" fill="#4d92e0" stroke="#0e2e50" stroke-width="0.8"/>
<rect x="105.3" y="510.74" width="86.3" height="3.6" fill="#4d92e0" stroke="#0e2e50" stroke-width="0.8"/>
<rect x="200.0" y="510.74" width="21.4" height="3.6" fill="#4d92e0" stroke="#0e2e50" stroke-width="0.8"/>
<rect x="230.2" y="510.74" width="103.6" height="3.6" fill="#4d92e0" stroke="#0e2e50" stroke-width="0.8"/>
<rect x="351.5" y="510.74" width="71.5" height="3.6" fill="#4d92e0" stroke="#0e2e50" stroke-width="0.8"/>
<rect x="177.5" y="516.41" width="14.1" height="3.6" fill="#4d92e0" stroke="#0e2e50" stroke-width="0.8"/>
<rect x="230.2" y="516.41" width="50.7" height="3.6" fill="#4d92e0" stroke="#0e2e50" stroke-width="0.8"/>
<rect x="351.5" y="516.41" width="75.4" height="3.6" fill="#4d92e0" stroke="#0e2e50" stroke-width="0.8"/>
<rect x="175.7" y="522.08" width="15.9" height="3.6" fill="#4d92e0" stroke="#0e2e50" stroke-width="0.8"/>
<rect x="230.2" y="522.08" width="41.5" height="3.6" fill="#4d92e0" stroke="#0e2e50" stroke-width="0.8"/>
<rect x="351.5" y="522.08" width="64.8" height="3.6" fill="#4d92e0" stroke="#0e2e50" stroke-width="0.8"/>
<rect x="121.7" y="527.75" width="69.9" height="3.6" fill="#4d92e0" stroke="#0e2e50" stroke-width="0.8"/>
<rect x="200.0" y="527.75" width="21.4" height="3.6" fill="#4d92e0" stroke="#0e2e50" stroke-width="0.8"/>
<rect x="230.2" y="527.75" width="31.1" height="3.6" fill="#4d92e0" stroke="#0e2e50" stroke-width="0.8"/>
<rect x="351.5" y="527.75" width="57.1" height="3.6" fill="#4d92e0" stroke="#0e2e50" stroke-width="0.8"/>
<rect x="173.6" y="533.42" width="18.0" height="3.6" fill="#4d92e0" stroke="#0e2e50" stroke-width="0.8"/>
<rect x="230.2" y="533.42" width="16.1" height="3.6" fill="#6a12d2" stroke="#1e0450" stroke-width="0.8"/>
<rect x="351.5" y="533.42" width="4.7" height="3.6" fill="#4d92e0" stroke="#0e2e50" stroke-width="0.8"/>
<rect x="151.0" y="539.10" width="40.6" height="3.6" fill="#6a12d2" stroke="#1e0450" stroke-width="0.8"/>
<rect x="230.2" y="539.10" width="43.6" height="3.6" fill="#6a12d2" stroke="#1e0450" stroke-width="0.8"/>
<rect x="351.5" y="539.10" width="70.9" height="3.6" fill="#6a12d2" stroke="#1e0450" stroke-width="0.8"/>
<rect x="175.2" y="544.77" width="16.4" height="3.6" fill="#6a12d2" stroke="#1e0450" stroke-width="0.8"/>
<rect x="230.2" y="544.77" width="11.5" height="3.6" fill="#6a12d2" stroke="#1e0450" stroke-width="0.8"/>
<rect x="351.5" y="544.77" width="48.1" height="3.6" fill="#6a12d2" stroke="#1e0450" stroke-width="0.8"/>
<rect x="175.2" y="550.44" width="16.4" height="3.6" fill="#6a12d2" stroke="#1e0450" stroke-width="0.8"/>
<rect x="230.2" y="550.44" width="63.2" height="3.6" fill="#6a12d2" stroke="#1e0450" stroke-width="0.8"/>
<rect x="351.5" y="550.44" width="52.0" height="3.6" fill="#6a12d2" stroke="#1e0450" stroke-width="0.8"/>
<rect x="178.2" y="556.11" width="13.4" height="3.6" fill="#6a12d2" stroke="#1e0450" stroke-width="0.8"/>
<rect x="351.5" y="556.11" width="45.0" height="3.6" fill="#6a12d2" stroke="#1e0450" stroke-width="0.8"/>
<rect x="171.8" y="561.78" width="19.8" height="3.6" fill="#6a12d2" stroke="#1e0450" stroke-width="0.8"/>
<rect x="230.2" y="561.78" width="10.1" height="3.6" fill="#6a12d2" stroke="#1e0450" stroke-width="0.8"/>
<rect x="351.5" y="561.78" width="12.4" height="3.6" fill="#6a12d2" stroke="#1e0450" stroke-width="0.8"/>
<rect x="177.5" y="567.46" width="14.1" height="3.6" fill="#6a12d2" stroke="#1e0450" stroke-width="0.8"/>
<rect x="230.2" y="567.46" width="2.3" height="3.6" fill="#6a12d2" stroke="#1e0450" stroke-width="0.8"/>
<rect x="351.5" y="567.46" width="12.4" height="3.6" fill="#6a12d2" stroke="#1e0450" stroke-width="0.8"/>
<rect x="176.9" y="573.13" width="14.7" height="3.6" fill="#6a12d2" stroke="#1e0450" stroke-width="0.8"/>
<rect x="230.2" y="573.13" width="2.3" height="3.6" fill="#6a12d2" stroke="#1e0450" stroke-width="0.8"/>
<rect x="351.5" y="573.13" width="17.3" height="3.6" fill="#6a12d2" stroke="#1e0450" stroke-width="0.8"/>
<rect x="168.3" y="578.80" width="23.3" height="3.6" fill="#eeee3a" stroke="#3e3e06" stroke-width="0.8"/>
<rect x="230.2" y="578.80" width="11.5" height="3.6" fill="#eeee3a" stroke="#3e3e06" stroke-width="0.8"/>
<rect x="351.5" y="578.80" width="25.1" height="3.6" fill="#eeee3a" stroke="#3e3e06" stroke-width="0.8"/>
<rect x="177.5" y="584.47" width="14.1" height="3.6" fill="#eeee3a" stroke="#3e3e06" stroke-width="0.8"/>
<rect x="230.2" y="584.47" width="16.1" height="3.6" fill="#eeee3a" stroke="#3e3e06" stroke-width="0.8"/>
<rect x="351.5" y="584.47" width="44.4" height="3.6" fill="#eeee3a" stroke="#3e3e06" stroke-width="0.8"/>
<rect x="176.9" y="590.14" width="14.7" height="3.6" fill="#ea2018" stroke="#4a0404" stroke-width="0.8"/>
<rect x="351.5" y="590.14" width="38.3" height="3.6" fill="#ea2018" stroke="#4a0404" stroke-width="0.8"/>
<rect x="148.7" y="595.82" width="42.9" height="3.6" fill="#ea2018" stroke="#4a0404" stroke-width="0.8"/>
<rect x="200.0" y="595.82" width="21.4" height="3.6" fill="#ea2018" stroke="#4a0404" stroke-width="0.8"/>
<rect x="230.2" y="595.82" width="39.2" height="3.6" fill="#ea2018" stroke="#4a0404" stroke-width="0.8"/>
<rect x="351.5" y="595.82" width="67.9" height="3.6" fill="#ea2018" stroke="#4a0404" stroke-width="0.8"/>
<rect x="137.2" y="601.49" width="54.4" height="3.6" fill="#ea2018" stroke="#4a0404" stroke-width="0.8"/>
<rect x="200.0" y="601.49" width="21.4" height="3.6" fill="#ea2018" stroke="#4a0404" stroke-width="0.8"/>
<rect x="230.2" y="601.49" width="60.0" height="3.6" fill="#ea2018" stroke="#4a0404" stroke-width="0.8"/>
<rect x="351.5" y="601.49" width="70.9" height="3.6" fill="#ea2018" stroke="#4a0404" stroke-width="0.8"/>
<rect x="141.8" y="607.16" width="49.8" height="3.6" fill="#ea2018" stroke="#4a0404" stroke-width="0.8"/>
<rect x="200.0" y="607.16" width="21.4" height="3.6" fill="#ea2018" stroke="#4a0404" stroke-width="0.8"/>
<rect x="230.2" y="607.16" width="32.7" height="3.6" fill="#ea2018" stroke="#4a0404" stroke-width="0.8"/>
<rect x="351.5" y="607.16" width="57.7" height="3.6" fill="#ea2018" stroke="#4a0404" stroke-width="0.8"/>
<rect x="172.5" y="612.83" width="19.1" height="3.6" fill="#ea2018" stroke="#4a0404" stroke-width="0.8"/>
<rect x="351.5" y="612.83" width="68.9" height="3.6" fill="#ea2018" stroke="#4a0404" stroke-width="0.8"/>
<rect x="173.6" y="618.50" width="18.0" height="3.6" fill="#ea2018" stroke="#4a0404" stroke-width="0.8"/>
<rect x="230.2" y="618.50" width="30.4" height="3.6" fill="#ea2018" stroke="#4a0404" stroke-width="0.8"/>
<rect x="173.6" y="624.18" width="18.0" height="3.6" fill="#ea2018" stroke="#4a0404" stroke-width="0.8"/>
<rect x="230.2" y="624.18" width="10.8" height="3.6" fill="#ea2018" stroke="#4a0404" stroke-width="0.8"/>
<rect x="351.5" y="624.18" width="75.4" height="3.6" fill="#ea2018" stroke="#4a0404" stroke-width="0.8"/>
<rect x="132.5" y="629.85" width="59.1" height="3.6" fill="#ea2018" stroke="#4a0404" stroke-width="0.8"/>
<rect x="200.0" y="629.85" width="21.4" height="3.6" fill="#ea2018" stroke="#4a0404" stroke-width="0.8"/>
<rect x="230.2" y="629.85" width="92.3" height="3.6" fill="#ea2018" stroke="#4a0404" stroke-width="0.8"/>
<rect x="351.5" y="629.85" width="69.9" height="3.6" fill="#ea2018" stroke="#4a0404" stroke-width="0.8"/>
<line x1="98.5" y1="292.8" x2="98.5" y2="635.2" stroke="#2a2a2a" stroke-width="0.85" stroke-dasharray="1.1,1.3"/>
<line x1="161.4" y1="292.8" x2="161.4" y2="635.2" stroke="#2a2a2a" stroke-width="0.85" stroke-dasharray="1.1,1.3"/>
<line x1="244.0" y1="292.8" x2="244.0" y2="635.2" stroke="#2a2a2a" stroke-width="0.85" stroke-dasharray="1.1,1.3"/>
<line x1="272.2" y1="292.8" x2="272.2" y2="635.2" stroke="#2a2a2a" stroke-width="0.85" stroke-dasharray="1.1,1.3"/>
<line x1="300.5" y1="292.8" x2="300.5" y2="635.2" stroke="#2a2a2a" stroke-width="0.85" stroke-dasharray="1.1,1.3"/>
<line x1="328.7" y1="292.8" x2="328.7" y2="635.2" stroke="#2a2a2a" stroke-width="0.85" stroke-dasharray="1.1,1.3"/>
<line x1="371.0" y1="292.8" x2="371.0" y2="635.2" stroke="#2a2a2a" stroke-width="0.85" stroke-dasharray="1.1,1.3"/>
<line x1="390.4" y1="292.8" x2="390.4" y2="635.2" stroke="#2a2a2a" stroke-width="0.85" stroke-dasharray="1.1,1.3"/>
<line x1="409.8" y1="292.8" x2="409.8" y2="635.2" stroke="#2a2a2a" stroke-width="0.85" stroke-dasharray="1.1,1.3"/>
<line x1="429.2" y1="292.8" x2="429.2" y2="635.2" stroke="#2a2a2a" stroke-width="0.85" stroke-dasharray="1.1,1.3"/>
<path d="M79.6,635.2 L79.6,292.8 L191.6,292.8 L191.6,635.2" fill="none" stroke="#6e6e6e" stroke-width="1.2"/>
<line x1="79.1" y1="635.2" x2="192.1" y2="635.2" stroke="#333" stroke-width="1.3"/>
<path d="M200.0,635.2 L200.0,292.8 L221.4,292.8 L221.4,635.2" fill="none" stroke="#6e6e6e" stroke-width="1.2"/>
<line x1="199.5" y1="635.2" x2="221.9" y2="635.2" stroke="#333" stroke-width="1.3"/>
<path d="M230.2,635.2 L230.2,292.8 L342.7,292.8 L342.7,635.2" fill="none" stroke="#6e6e6e" stroke-width="1.2"/>
<line x1="229.7" y1="635.2" x2="343.2" y2="635.2" stroke="#333" stroke-width="1.3"/>
<path d="M351.5,635.2 L351.5,292.8 L448.5,292.8 L448.5,635.2" fill="none" stroke="#6e6e6e" stroke-width="1.2"/>
<line x1="351.0" y1="635.2" x2="449.0" y2="635.2" stroke="#333" stroke-width="1.3"/>
<line x1="79.6" y1="292.8" x2="79.6" y2="635.2" stroke="#555" stroke-width="1"/>
<line x1="230.2" y1="292.8" x2="230.2" y2="635.2" stroke="#555" stroke-width="1"/>
<line x1="351.5" y1="292.8" x2="351.5" y2="635.2" stroke="#555" stroke-width="1"/>
<line x1="448.5" y1="292.8" x2="448.5" y2="635.2" stroke="#555" stroke-width="1"/>
<line x1="71.2" y1="297.00" x2="79.6" y2="297.00" stroke="#d42a48" stroke-width="1.45"/>
<line x1="192.2" y1="297.00" x2="200.0" y2="297.00" stroke="#d42a48" stroke-width="1.45"/>
<line x1="221.8" y1="297.00" x2="230.2" y2="297.00" stroke="#d42a48" stroke-width="1.45"/>
<line x1="343.1" y1="297.00" x2="351.5" y2="297.00" stroke="#d42a48" stroke-width="1.45"/>
<line x1="71.2" y1="302.67" x2="79.6" y2="302.67" stroke="#1a1a1a" stroke-width="1.45"/>
<line x1="192.2" y1="302.67" x2="200.0" y2="302.67" stroke="#1a1a1a" stroke-width="1.45"/>
<line x1="221.8" y1="302.67" x2="230.2" y2="302.67" stroke="#1a1a1a" stroke-width="1.45"/>
<line x1="343.1" y1="302.67" x2="351.5" y2="302.67" stroke="#1a1a1a" stroke-width="1.45"/>
<line x1="71.2" y1="308.34" x2="79.6" y2="308.34" stroke="#1a1a1a" stroke-width="1.45"/>
<line x1="192.2" y1="308.34" x2="200.0" y2="308.34" stroke="#1a1a1a" stroke-width="1.45"/>
<line x1="221.8" y1="308.34" x2="230.2" y2="308.34" stroke="#1a1a1a" stroke-width="1.45"/>
<line x1="343.1" y1="308.34" x2="351.5" y2="308.34" stroke="#1a1a1a" stroke-width="1.45"/>
<line x1="71.2" y1="314.02" x2="79.6" y2="314.02" stroke="#1a1a1a" stroke-width="1.45"/>
<line x1="192.2" y1="314.02" x2="200.0" y2="314.02" stroke="#1a1a1a" stroke-width="1.45"/>
<line x1="221.8" y1="314.02" x2="230.2" y2="314.02" stroke="#1a1a1a" stroke-width="1.45"/>
<line x1="343.1" y1="314.02" x2="351.5" y2="314.02" stroke="#1a1a1a" stroke-width="1.45"/>
<line x1="71.2" y1="319.69" x2="79.6" y2="319.69" stroke="#1a1a1a" stroke-width="1.45"/>
<line x1="192.2" y1="319.69" x2="200.0" y2="319.69" stroke="#1a1a1a" stroke-width="1.45"/>
<line x1="221.8" y1="319.69" x2="230.2" y2="319.69" stroke="#1a1a1a" stroke-width="1.45"/>
<line x1="343.1" y1="319.69" x2="351.5" y2="319.69" stroke="#1a1a1a" stroke-width="1.45"/>
<line x1="71.2" y1="325.36" x2="79.6" y2="325.36" stroke="#1a1a1a" stroke-width="1.45"/>
<line x1="192.2" y1="325.36" x2="200.0" y2="325.36" stroke="#1a1a1a" stroke-width="1.45"/>
<line x1="221.8" y1="325.36" x2="230.2" y2="325.36" stroke="#1a1a1a" stroke-width="1.45"/>
<line x1="343.1" y1="325.36" x2="351.5" y2="325.36" stroke="#1a1a1a" stroke-width="1.45"/>
<line x1="71.2" y1="331.03" x2="79.6" y2="331.03" stroke="#1a1a1a" stroke-width="1.45"/>
<line x1="192.2" y1="331.03" x2="200.0" y2="331.03" stroke="#1a1a1a" stroke-width="1.45"/>
<line x1="221.8" y1="331.03" x2="230.2" y2="331.03" stroke="#1a1a1a" stroke-width="1.45"/>
<line x1="343.1" y1="331.03" x2="351.5" y2="331.03" stroke="#1a1a1a" stroke-width="1.45"/>
<line x1="71.2" y1="336.70" x2="79.6" y2="336.70" stroke="#1a1a1a" stroke-width="1.45"/>
<line x1="192.2" y1="336.70" x2="200.0" y2="336.70" stroke="#1a1a1a" stroke-width="1.45"/>
<line x1="221.8" y1="336.70" x2="230.2" y2="336.70" stroke="#1a1a1a" stroke-width="1.45"/>
<line x1="343.1" y1="336.70" x2="351.5" y2="336.70" stroke="#1a1a1a" stroke-width="1.45"/>
<line x1="71.2" y1="342.38" x2="79.6" y2="342.38" stroke="#1a1a1a" stroke-width="1.45"/>
<line x1="192.2" y1="342.38" x2="200.0" y2="342.38" stroke="#1a1a1a" stroke-width="1.45"/>
<line x1="221.8" y1="342.38" x2="230.2" y2="342.38" stroke="#1a1a1a" stroke-width="1.45"/>
<line x1="343.1" y1="342.38" x2="351.5" y2="342.38" stroke="#1a1a1a" stroke-width="1.45"/>
<line x1="71.2" y1="348.05" x2="79.6" y2="348.05" stroke="#1a1a1a" stroke-width="1.45"/>
<line x1="192.2" y1="348.05" x2="200.0" y2="348.05" stroke="#1a1a1a" stroke-width="1.45"/>
<line x1="221.8" y1="348.05" x2="230.2" y2="348.05" stroke="#1a1a1a" stroke-width="1.45"/>
<line x1="343.1" y1="348.05" x2="351.5" y2="348.05" stroke="#1a1a1a" stroke-width="1.45"/>
<line x1="71.2" y1="353.72" x2="79.6" y2="353.72" stroke="#1a1a1a" stroke-width="1.45"/>
<line x1="192.2" y1="353.72" x2="200.0" y2="353.72" stroke="#1a1a1a" stroke-width="1.45"/>
<line x1="221.8" y1="353.72" x2="230.2" y2="353.72" stroke="#1a1a1a" stroke-width="1.45"/>
<line x1="343.1" y1="353.72" x2="351.5" y2="353.72" stroke="#1a1a1a" stroke-width="1.45"/>
<line x1="71.2" y1="359.39" x2="79.6" y2="359.39" stroke="#1a1a1a" stroke-width="1.45"/>
<line x1="192.2" y1="359.39" x2="200.0" y2="359.39" stroke="#1a1a1a" stroke-width="1.45"/>
<line x1="221.8" y1="359.39" x2="230.2" y2="359.39" stroke="#1a1a1a" stroke-width="1.45"/>
<line x1="343.1" y1="359.39" x2="351.5" y2="359.39" stroke="#1a1a1a" stroke-width="1.45"/>
<line x1="71.2" y1="365.06" x2="79.6" y2="365.06" stroke="#1a1a1a" stroke-width="1.45"/>
<line x1="192.2" y1="365.06" x2="200.0" y2="365.06" stroke="#1a1a1a" stroke-width="1.45"/>
<line x1="221.8" y1="365.06" x2="230.2" y2="365.06" stroke="#1a1a1a" stroke-width="1.45"/>
<line x1="343.1" y1="365.06" x2="351.5" y2="365.06" stroke="#1a1a1a" stroke-width="1.45"/>
<line x1="71.2" y1="370.74" x2="79.6" y2="370.74" stroke="#d42a48" stroke-width="1.45"/>
<line x1="192.2" y1="370.74" x2="200.0" y2="370.74" stroke="#d42a48" stroke-width="1.45"/>
<line x1="221.8" y1="370.74" x2="230.2" y2="370.74" stroke="#d42a48" stroke-width="1.45"/>
<line x1="343.1" y1="370.74" x2="351.5" y2="370.74" stroke="#d42a48" stroke-width="1.45"/>
<line x1="71.2" y1="376.41" x2="79.6" y2="376.41" stroke="#1a1a1a" stroke-width="1.45"/>
<line x1="192.2" y1="376.41" x2="200.0" y2="376.41" stroke="#1a1a1a" stroke-width="1.45"/>
<line x1="221.8" y1="376.41" x2="230.2" y2="376.41" stroke="#1a1a1a" stroke-width="1.45"/>
<line x1="343.1" y1="376.41" x2="351.5" y2="376.41" stroke="#1a1a1a" stroke-width="1.45"/>
<line x1="71.2" y1="382.08" x2="79.6" y2="382.08" stroke="#1a1a1a" stroke-width="1.45"/>
<line x1="192.2" y1="382.08" x2="200.0" y2="382.08" stroke="#1a1a1a" stroke-width="1.45"/>
<line x1="221.8" y1="382.08" x2="230.2" y2="382.08" stroke="#1a1a1a" stroke-width="1.45"/>
<line x1="343.1" y1="382.08" x2="351.5" y2="382.08" stroke="#1a1a1a" stroke-width="1.45"/>
<line x1="71.2" y1="387.75" x2="79.6" y2="387.75" stroke="#1a1a1a" stroke-width="1.45"/>
<line x1="192.2" y1="387.75" x2="200.0" y2="387.75" stroke="#1a1a1a" stroke-width="1.45"/>
<line x1="221.8" y1="387.75" x2="230.2" y2="387.75" stroke="#1a1a1a" stroke-width="1.45"/>
<line x1="343.1" y1="387.75" x2="351.5" y2="387.75" stroke="#1a1a1a" stroke-width="1.45"/>
<line x1="71.2" y1="393.42" x2="79.6" y2="393.42" stroke="#1a1a1a" stroke-width="1.45"/>
<line x1="192.2" y1="393.42" x2="200.0" y2="393.42" stroke="#1a1a1a" stroke-width="1.45"/>
<line x1="221.8" y1="393.42" x2="230.2" y2="393.42" stroke="#1a1a1a" stroke-width="1.45"/>
<line x1="343.1" y1="393.42" x2="351.5" y2="393.42" stroke="#1a1a1a" stroke-width="1.45"/>
<line x1="71.2" y1="399.10" x2="79.6" y2="399.10" stroke="#1a1a1a" stroke-width="1.45"/>
<line x1="192.2" y1="399.10" x2="200.0" y2="399.10" stroke="#1a1a1a" stroke-width="1.45"/>
<line x1="221.8" y1="399.10" x2="230.2" y2="399.10" stroke="#1a1a1a" stroke-width="1.45"/>
<line x1="343.1" y1="399.10" x2="351.5" y2="399.10" stroke="#1a1a1a" stroke-width="1.45"/>
<line x1="71.2" y1="404.77" x2="79.6" y2="404.77" stroke="#1a1a1a" stroke-width="1.45"/>
<line x1="192.2" y1="404.77" x2="200.0" y2="404.77" stroke="#1a1a1a" stroke-width="1.45"/>
<line x1="221.8" y1="404.77" x2="230.2" y2="404.77" stroke="#1a1a1a" stroke-width="1.45"/>
<line x1="343.1" y1="404.77" x2="351.5" y2="404.77" stroke="#1a1a1a" stroke-width="1.45"/>
<line x1="71.2" y1="410.44" x2="79.6" y2="410.44" stroke="#1a1a1a" stroke-width="1.45"/>
<line x1="192.2" y1="410.44" x2="200.0" y2="410.44" stroke="#1a1a1a" stroke-width="1.45"/>
<line x1="221.8" y1="410.44" x2="230.2" y2="410.44" stroke="#1a1a1a" stroke-width="1.45"/>
<line x1="343.1" y1="410.44" x2="351.5" y2="410.44" stroke="#1a1a1a" stroke-width="1.45"/>
<line x1="71.2" y1="416.11" x2="79.6" y2="416.11" stroke="#1a1a1a" stroke-width="1.45"/>
<line x1="192.2" y1="416.11" x2="200.0" y2="416.11" stroke="#1a1a1a" stroke-width="1.45"/>
<line x1="221.8" y1="416.11" x2="230.2" y2="416.11" stroke="#1a1a1a" stroke-width="1.45"/>
<line x1="343.1" y1="416.11" x2="351.5" y2="416.11" stroke="#1a1a1a" stroke-width="1.45"/>
<line x1="71.2" y1="421.78" x2="79.6" y2="421.78" stroke="#1a1a1a" stroke-width="1.45"/>
<line x1="192.2" y1="421.78" x2="200.0" y2="421.78" stroke="#1a1a1a" stroke-width="1.45"/>
<line x1="221.8" y1="421.78" x2="230.2" y2="421.78" stroke="#1a1a1a" stroke-width="1.45"/>
<line x1="343.1" y1="421.78" x2="351.5" y2="421.78" stroke="#1a1a1a" stroke-width="1.45"/>
<line x1="71.2" y1="427.46" x2="79.6" y2="427.46" stroke="#d42a48" stroke-width="1.45"/>
<line x1="192.2" y1="427.46" x2="200.0" y2="427.46" stroke="#d42a48" stroke-width="1.45"/>
<line x1="221.8" y1="427.46" x2="230.2" y2="427.46" stroke="#d42a48" stroke-width="1.45"/>
<line x1="343.1" y1="427.46" x2="351.5" y2="427.46" stroke="#d42a48" stroke-width="1.45"/>
<line x1="71.2" y1="433.13" x2="79.6" y2="433.13" stroke="#d42a48" stroke-width="1.45"/>
<line x1="192.2" y1="433.13" x2="200.0" y2="433.13" stroke="#d42a48" stroke-width="1.45"/>
<line x1="221.8" y1="433.13" x2="230.2" y2="433.13" stroke="#d42a48" stroke-width="1.45"/>
<line x1="343.1" y1="433.13" x2="351.5" y2="433.13" stroke="#d42a48" stroke-width="1.45"/>
<line x1="71.2" y1="438.80" x2="79.6" y2="438.80" stroke="#d42a48" stroke-width="1.45"/>
<line x1="192.2" y1="438.80" x2="200.0" y2="438.80" stroke="#d42a48" stroke-width="1.45"/>
<line x1="221.8" y1="438.80" x2="230.2" y2="438.80" stroke="#d42a48" stroke-width="1.45"/>
<line x1="343.1" y1="438.80" x2="351.5" y2="438.80" stroke="#d42a48" stroke-width="1.45"/>
<line x1="71.2" y1="444.47" x2="79.6" y2="444.47" stroke="#1a1a1a" stroke-width="1.45"/>
<line x1="192.2" y1="444.47" x2="200.0" y2="444.47" stroke="#1a1a1a" stroke-width="1.45"/>
<line x1="221.8" y1="444.47" x2="230.2" y2="444.47" stroke="#1a1a1a" stroke-width="1.45"/>
<line x1="343.1" y1="444.47" x2="351.5" y2="444.47" stroke="#1a1a1a" stroke-width="1.45"/>
<line x1="71.2" y1="450.14" x2="79.6" y2="450.14" stroke="#1a1a1a" stroke-width="1.45"/>
<line x1="192.2" y1="450.14" x2="200.0" y2="450.14" stroke="#1a1a1a" stroke-width="1.45"/>
<line x1="221.8" y1="450.14" x2="230.2" y2="450.14" stroke="#1a1a1a" stroke-width="1.45"/>
<line x1="343.1" y1="450.14" x2="351.5" y2="450.14" stroke="#1a1a1a" stroke-width="1.45"/>
<line x1="71.2" y1="455.82" x2="79.6" y2="455.82" stroke="#1a1a1a" stroke-width="1.45"/>
<line x1="192.2" y1="455.82" x2="200.0" y2="455.82" stroke="#1a1a1a" stroke-width="1.45"/>
<line x1="221.8" y1="455.82" x2="230.2" y2="455.82" stroke="#1a1a1a" stroke-width="1.45"/>
<line x1="343.1" y1="455.82" x2="351.5" y2="455.82" stroke="#1a1a1a" stroke-width="1.45"/>
<line x1="71.2" y1="461.49" x2="79.6" y2="461.49" stroke="#d42a48" stroke-width="1.45"/>
<line x1="192.2" y1="461.49" x2="200.0" y2="461.49" stroke="#d42a48" stroke-width="1.45"/>
<line x1="221.8" y1="461.49" x2="230.2" y2="461.49" stroke="#d42a48" stroke-width="1.45"/>
<line x1="343.1" y1="461.49" x2="351.5" y2="461.49" stroke="#d42a48" stroke-width="1.45"/>
<line x1="71.2" y1="467.16" x2="79.6" y2="467.16" stroke="#d42a48" stroke-width="1.45"/>
<line x1="192.2" y1="467.16" x2="200.0" y2="467.16" stroke="#d42a48" stroke-width="1.45"/>
<line x1="221.8" y1="467.16" x2="230.2" y2="467.16" stroke="#d42a48" stroke-width="1.45"/>
<line x1="343.1" y1="467.16" x2="351.5" y2="467.16" stroke="#d42a48" stroke-width="1.45"/>
<line x1="71.2" y1="472.83" x2="79.6" y2="472.83" stroke="#d42a48" stroke-width="1.45"/>
<line x1="192.2" y1="472.83" x2="200.0" y2="472.83" stroke="#d42a48" stroke-width="1.45"/>
<line x1="221.8" y1="472.83" x2="230.2" y2="472.83" stroke="#d42a48" stroke-width="1.45"/>
<line x1="343.1" y1="472.83" x2="351.5" y2="472.83" stroke="#d42a48" stroke-width="1.45"/>
<line x1="71.2" y1="478.50" x2="79.6" y2="478.50" stroke="#1a1a1a" stroke-width="1.45"/>
<line x1="192.2" y1="478.50" x2="200.0" y2="478.50" stroke="#1a1a1a" stroke-width="1.45"/>
<line x1="221.8" y1="478.50" x2="230.2" y2="478.50" stroke="#1a1a1a" stroke-width="1.45"/>
<line x1="343.1" y1="478.50" x2="351.5" y2="478.50" stroke="#1a1a1a" stroke-width="1.45"/>
<line x1="71.2" y1="484.18" x2="79.6" y2="484.18" stroke="#1a1a1a" stroke-width="1.45"/>
<line x1="192.2" y1="484.18" x2="200.0" y2="484.18" stroke="#1a1a1a" stroke-width="1.45"/>
<line x1="221.8" y1="484.18" x2="230.2" y2="484.18" stroke="#1a1a1a" stroke-width="1.45"/>
<line x1="343.1" y1="484.18" x2="351.5" y2="484.18" stroke="#1a1a1a" stroke-width="1.45"/>
<line x1="71.2" y1="489.85" x2="79.6" y2="489.85" stroke="#d42a48" stroke-width="1.45"/>
<line x1="192.2" y1="489.85" x2="200.0" y2="489.85" stroke="#d42a48" stroke-width="1.45"/>
<line x1="221.8" y1="489.85" x2="230.2" y2="489.85" stroke="#d42a48" stroke-width="1.45"/>
<line x1="343.1" y1="489.85" x2="351.5" y2="489.85" stroke="#d42a48" stroke-width="1.45"/>
<line x1="71.2" y1="495.52" x2="79.6" y2="495.52" stroke="#1a1a1a" stroke-width="1.45"/>
<line x1="192.2" y1="495.52" x2="200.0" y2="495.52" stroke="#1a1a1a" stroke-width="1.45"/>
<line x1="221.8" y1="495.52" x2="230.2" y2="495.52" stroke="#1a1a1a" stroke-width="1.45"/>
<line x1="343.1" y1="495.52" x2="351.5" y2="495.52" stroke="#1a1a1a" stroke-width="1.45"/>
<line x1="71.2" y1="501.19" x2="79.6" y2="501.19" stroke="#1a1a1a" stroke-width="1.45"/>
<line x1="192.2" y1="501.19" x2="200.0" y2="501.19" stroke="#1a1a1a" stroke-width="1.45"/>
<line x1="221.8" y1="501.19" x2="230.2" y2="501.19" stroke="#1a1a1a" stroke-width="1.45"/>
<line x1="343.1" y1="501.19" x2="351.5" y2="501.19" stroke="#1a1a1a" stroke-width="1.45"/>
<line x1="71.2" y1="506.86" x2="79.6" y2="506.86" stroke="#1a1a1a" stroke-width="1.45"/>
<line x1="192.2" y1="506.86" x2="200.0" y2="506.86" stroke="#1a1a1a" stroke-width="1.45"/>
<line x1="221.8" y1="506.86" x2="230.2" y2="506.86" stroke="#1a1a1a" stroke-width="1.45"/>
<line x1="343.1" y1="506.86" x2="351.5" y2="506.86" stroke="#1a1a1a" stroke-width="1.45"/>
<line x1="71.2" y1="512.54" x2="79.6" y2="512.54" stroke="#d42a48" stroke-width="1.45"/>
<line x1="192.2" y1="512.54" x2="200.0" y2="512.54" stroke="#d42a48" stroke-width="1.45"/>
<line x1="221.8" y1="512.54" x2="230.2" y2="512.54" stroke="#d42a48" stroke-width="1.45"/>
<line x1="343.1" y1="512.54" x2="351.5" y2="512.54" stroke="#d42a48" stroke-width="1.45"/>
<line x1="71.2" y1="518.21" x2="79.6" y2="518.21" stroke="#1a1a1a" stroke-width="1.45"/>
<line x1="192.2" y1="518.21" x2="200.0" y2="518.21" stroke="#1a1a1a" stroke-width="1.45"/>
<line x1="221.8" y1="518.21" x2="230.2" y2="518.21" stroke="#1a1a1a" stroke-width="1.45"/>
<line x1="343.1" y1="518.21" x2="351.5" y2="518.21" stroke="#1a1a1a" stroke-width="1.45"/>
<line x1="71.2" y1="523.88" x2="79.6" y2="523.88" stroke="#1a1a1a" stroke-width="1.45"/>
<line x1="192.2" y1="523.88" x2="200.0" y2="523.88" stroke="#1a1a1a" stroke-width="1.45"/>
<line x1="221.8" y1="523.88" x2="230.2" y2="523.88" stroke="#1a1a1a" stroke-width="1.45"/>
<line x1="343.1" y1="523.88" x2="351.5" y2="523.88" stroke="#1a1a1a" stroke-width="1.45"/>
<line x1="71.2" y1="529.55" x2="79.6" y2="529.55" stroke="#d42a48" stroke-width="1.45"/>
<line x1="192.2" y1="529.55" x2="200.0" y2="529.55" stroke="#d42a48" stroke-width="1.45"/>
<line x1="221.8" y1="529.55" x2="230.2" y2="529.55" stroke="#d42a48" stroke-width="1.45"/>
<line x1="343.1" y1="529.55" x2="351.5" y2="529.55" stroke="#d42a48" stroke-width="1.45"/>
<line x1="71.2" y1="535.22" x2="79.6" y2="535.22" stroke="#1a1a1a" stroke-width="1.45"/>
<line x1="192.2" y1="535.22" x2="200.0" y2="535.22" stroke="#1a1a1a" stroke-width="1.45"/>
<line x1="221.8" y1="535.22" x2="230.2" y2="535.22" stroke="#1a1a1a" stroke-width="1.45"/>
<line x1="343.1" y1="535.22" x2="351.5" y2="535.22" stroke="#1a1a1a" stroke-width="1.45"/>
<line x1="71.2" y1="540.90" x2="79.6" y2="540.90" stroke="#1a1a1a" stroke-width="1.45"/>
<line x1="192.2" y1="540.90" x2="200.0" y2="540.90" stroke="#1a1a1a" stroke-width="1.45"/>
<line x1="221.8" y1="540.90" x2="230.2" y2="540.90" stroke="#1a1a1a" stroke-width="1.45"/>
<line x1="343.1" y1="540.90" x2="351.5" y2="540.90" stroke="#1a1a1a" stroke-width="1.45"/>
<line x1="71.2" y1="546.57" x2="79.6" y2="546.57" stroke="#1a1a1a" stroke-width="1.45"/>
<line x1="192.2" y1="546.57" x2="200.0" y2="546.57" stroke="#1a1a1a" stroke-width="1.45"/>
<line x1="221.8" y1="546.57" x2="230.2" y2="546.57" stroke="#1a1a1a" stroke-width="1.45"/>
<line x1="343.1" y1="546.57" x2="351.5" y2="546.57" stroke="#1a1a1a" stroke-width="1.45"/>
<line x1="71.2" y1="552.24" x2="79.6" y2="552.24" stroke="#1a1a1a" stroke-width="1.45"/>
<line x1="192.2" y1="552.24" x2="200.0" y2="552.24" stroke="#1a1a1a" stroke-width="1.45"/>
<line x1="221.8" y1="552.24" x2="230.2" y2="552.24" stroke="#1a1a1a" stroke-width="1.45"/>
<line x1="343.1" y1="552.24" x2="351.5" y2="552.24" stroke="#1a1a1a" stroke-width="1.45"/>
<line x1="71.2" y1="557.91" x2="79.6" y2="557.91" stroke="#1a1a1a" stroke-width="1.45"/>
<line x1="192.2" y1="557.91" x2="200.0" y2="557.91" stroke="#1a1a1a" stroke-width="1.45"/>
<line x1="221.8" y1="557.91" x2="230.2" y2="557.91" stroke="#1a1a1a" stroke-width="1.45"/>
<line x1="343.1" y1="557.91" x2="351.5" y2="557.91" stroke="#1a1a1a" stroke-width="1.45"/>
<line x1="71.2" y1="563.58" x2="79.6" y2="563.58" stroke="#1a1a1a" stroke-width="1.45"/>
<line x1="192.2" y1="563.58" x2="200.0" y2="563.58" stroke="#1a1a1a" stroke-width="1.45"/>
<line x1="221.8" y1="563.58" x2="230.2" y2="563.58" stroke="#1a1a1a" stroke-width="1.45"/>
<line x1="343.1" y1="563.58" x2="351.5" y2="563.58" stroke="#1a1a1a" stroke-width="1.45"/>
<line x1="71.2" y1="569.26" x2="79.6" y2="569.26" stroke="#1a1a1a" stroke-width="1.45"/>
<line x1="192.2" y1="569.26" x2="200.0" y2="569.26" stroke="#1a1a1a" stroke-width="1.45"/>
<line x1="221.8" y1="569.26" x2="230.2" y2="569.26" stroke="#1a1a1a" stroke-width="1.45"/>
<line x1="343.1" y1="569.26" x2="351.5" y2="569.26" stroke="#1a1a1a" stroke-width="1.45"/>
<line x1="71.2" y1="574.93" x2="79.6" y2="574.93" stroke="#1a1a1a" stroke-width="1.45"/>
<line x1="192.2" y1="574.93" x2="200.0" y2="574.93" stroke="#1a1a1a" stroke-width="1.45"/>
<line x1="221.8" y1="574.93" x2="230.2" y2="574.93" stroke="#1a1a1a" stroke-width="1.45"/>
<line x1="343.1" y1="574.93" x2="351.5" y2="574.93" stroke="#1a1a1a" stroke-width="1.45"/>
<line x1="71.2" y1="580.60" x2="79.6" y2="580.60" stroke="#1a1a1a" stroke-width="1.45"/>
<line x1="192.2" y1="580.60" x2="200.0" y2="580.60" stroke="#1a1a1a" stroke-width="1.45"/>
<line x1="221.8" y1="580.60" x2="230.2" y2="580.60" stroke="#1a1a1a" stroke-width="1.45"/>
<line x1="343.1" y1="580.60" x2="351.5" y2="580.60" stroke="#1a1a1a" stroke-width="1.45"/>
<line x1="71.2" y1="586.27" x2="79.6" y2="586.27" stroke="#1a1a1a" stroke-width="1.45"/>
<line x1="192.2" y1="586.27" x2="200.0" y2="586.27" stroke="#1a1a1a" stroke-width="1.45"/>
<line x1="221.8" y1="586.27" x2="230.2" y2="586.27" stroke="#1a1a1a" stroke-width="1.45"/>
<line x1="343.1" y1="586.27" x2="351.5" y2="586.27" stroke="#1a1a1a" stroke-width="1.45"/>
<line x1="71.2" y1="591.94" x2="79.6" y2="591.94" stroke="#1a1a1a" stroke-width="1.45"/>
<line x1="192.2" y1="591.94" x2="200.0" y2="591.94" stroke="#1a1a1a" stroke-width="1.45"/>
<line x1="221.8" y1="591.94" x2="230.2" y2="591.94" stroke="#1a1a1a" stroke-width="1.45"/>
<line x1="343.1" y1="591.94" x2="351.5" y2="591.94" stroke="#1a1a1a" stroke-width="1.45"/>
<line x1="71.2" y1="597.62" x2="79.6" y2="597.62" stroke="#d42a48" stroke-width="1.45"/>
<line x1="192.2" y1="597.62" x2="200.0" y2="597.62" stroke="#d42a48" stroke-width="1.45"/>
<line x1="221.8" y1="597.62" x2="230.2" y2="597.62" stroke="#d42a48" stroke-width="1.45"/>
<line x1="343.1" y1="597.62" x2="351.5" y2="597.62" stroke="#d42a48" stroke-width="1.45"/>
<line x1="71.2" y1="603.29" x2="79.6" y2="603.29" stroke="#d42a48" stroke-width="1.45"/>
<line x1="192.2" y1="603.29" x2="200.0" y2="603.29" stroke="#d42a48" stroke-width="1.45"/>
<line x1="221.8" y1="603.29" x2="230.2" y2="603.29" stroke="#d42a48" stroke-width="1.45"/>
<line x1="343.1" y1="603.29" x2="351.5" y2="603.29" stroke="#d42a48" stroke-width="1.45"/>
<line x1="71.2" y1="608.96" x2="79.6" y2="608.96" stroke="#d42a48" stroke-width="1.45"/>
<line x1="192.2" y1="608.96" x2="200.0" y2="608.96" stroke="#d42a48" stroke-width="1.45"/>
<line x1="221.8" y1="608.96" x2="230.2" y2="608.96" stroke="#d42a48" stroke-width="1.45"/>
<line x1="343.1" y1="608.96" x2="351.5" y2="608.96" stroke="#d42a48" stroke-width="1.45"/>
<line x1="71.2" y1="614.63" x2="79.6" y2="614.63" stroke="#1a1a1a" stroke-width="1.45"/>
<line x1="192.2" y1="614.63" x2="200.0" y2="614.63" stroke="#1a1a1a" stroke-width="1.45"/>
<line x1="221.8" y1="614.63" x2="230.2" y2="614.63" stroke="#1a1a1a" stroke-width="1.45"/>
<line x1="343.1" y1="614.63" x2="351.5" y2="614.63" stroke="#1a1a1a" stroke-width="1.45"/>
<line x1="71.2" y1="620.30" x2="79.6" y2="620.30" stroke="#1a1a1a" stroke-width="1.45"/>
<line x1="192.2" y1="620.30" x2="200.0" y2="620.30" stroke="#1a1a1a" stroke-width="1.45"/>
<line x1="221.8" y1="620.30" x2="230.2" y2="620.30" stroke="#1a1a1a" stroke-width="1.45"/>
<line x1="343.1" y1="620.30" x2="351.5" y2="620.30" stroke="#1a1a1a" stroke-width="1.45"/>
<line x1="71.2" y1="625.98" x2="79.6" y2="625.98" stroke="#1a1a1a" stroke-width="1.45"/>
<line x1="192.2" y1="625.98" x2="200.0" y2="625.98" stroke="#1a1a1a" stroke-width="1.45"/>
<line x1="221.8" y1="625.98" x2="230.2" y2="625.98" stroke="#1a1a1a" stroke-width="1.45"/>
<line x1="343.1" y1="625.98" x2="351.5" y2="625.98" stroke="#1a1a1a" stroke-width="1.45"/>
<line x1="71.2" y1="631.65" x2="79.6" y2="631.65" stroke="#d42a48" stroke-width="1.45"/>
<line x1="192.2" y1="631.65" x2="200.0" y2="631.65" stroke="#d42a48" stroke-width="1.45"/>
<line x1="221.8" y1="631.65" x2="230.2" y2="631.65" stroke="#d42a48" stroke-width="1.45"/>
<line x1="343.1" y1="631.65" x2="351.5" y2="631.65" stroke="#d42a48" stroke-width="1.45"/>
<text x="70.4" y="299.15" font-size="6.2" fill="#d23a62" text-anchor="end">BR:MCF7</text>
<text x="449.8" y="299.15" font-size="6.2" fill="#d23a62">BR:MCF7</text>
<text x="70.4" y="304.82" font-size="6.2" fill="#2e2e2e" text-anchor="end">BR:MDA_MB_231</text>
<text x="449.8" y="304.82" font-size="6.2" fill="#2e2e2e">BR:MDA_MB_231</text>
<text x="70.4" y="310.49" font-size="6.2" fill="#2e2e2e" text-anchor="end">BR:HS578T</text>
<text x="449.8" y="310.49" font-size="6.2" fill="#2e2e2e">BR:HS578T</text>
<text x="70.4" y="316.17" font-size="6.2" fill="#2e2e2e" text-anchor="end">BR:BT_549</text>
<text x="449.8" y="316.17" font-size="6.2" fill="#2e2e2e">BR:BT_549</text>
<text x="70.4" y="321.84" font-size="6.2" fill="#2e2e2e" text-anchor="end">BR:T47D</text>
<text x="449.8" y="321.84" font-size="6.2" fill="#2e2e2e">BR:T47D</text>
<text x="70.4" y="327.51" font-size="6.2" fill="#2e2e2e" text-anchor="end">CNS:SF_268</text>
<text x="449.8" y="327.51" font-size="6.2" fill="#2e2e2e">CNS:SF_268</text>
<text x="70.4" y="333.18" font-size="6.2" fill="#2e2e2e" text-anchor="end">CNS:SF_295</text>
<text x="449.8" y="333.18" font-size="6.2" fill="#2e2e2e">CNS:SF_295</text>
<text x="70.4" y="338.85" font-size="6.2" fill="#2e2e2e" text-anchor="end">CNS:SF_539</text>
<text x="449.8" y="338.85" font-size="6.2" fill="#2e2e2e">CNS:SF_539</text>
<text x="70.4" y="344.53" font-size="6.2" fill="#2e2e2e" text-anchor="end">CNS:SNB_19</text>
<text x="449.8" y="344.53" font-size="6.2" fill="#2e2e2e">CNS:SNB_19</text>
<text x="70.4" y="350.20" font-size="6.2" fill="#2e2e2e" text-anchor="end">CNS:SNB_75</text>
<text x="449.8" y="350.20" font-size="6.2" fill="#2e2e2e">CNS:SNB_75</text>
<text x="70.4" y="355.87" font-size="6.2" fill="#2e2e2e" text-anchor="end">CNS:U251</text>
<text x="449.8" y="355.87" font-size="6.2" fill="#2e2e2e">CNS:U251</text>
<text x="70.4" y="361.54" font-size="6.2" fill="#2e2e2e" text-anchor="end">CO:COLO205</text>
<text x="449.8" y="361.54" font-size="6.2" fill="#2e2e2e">CO:COLO205</text>
<text x="70.4" y="367.21" font-size="6.2" fill="#2e2e2e" text-anchor="end">CO:HCC_2998</text>
<text x="449.8" y="367.21" font-size="6.2" fill="#2e2e2e">CO:HCC_2998</text>
<text x="70.4" y="372.89" font-size="6.2" fill="#d23a62" text-anchor="end">CO:HCT_116</text>
<text x="449.8" y="372.89" font-size="6.2" fill="#d23a62">CO:HCT_116</text>
<text x="70.4" y="378.56" font-size="6.2" fill="#2e2e2e" text-anchor="end">CO:HCT_15</text>
<text x="449.8" y="378.56" font-size="6.2" fill="#2e2e2e">CO:HCT_15</text>
<text x="70.4" y="384.23" font-size="6.2" fill="#2e2e2e" text-anchor="end">CO:HT29</text>
<text x="449.8" y="384.23" font-size="6.2" fill="#2e2e2e">CO:HT29</text>
<text x="70.4" y="389.90" font-size="6.2" fill="#2e2e2e" text-anchor="end">CO:KM12</text>
<text x="449.8" y="389.90" font-size="6.2" fill="#2e2e2e">CO:KM12</text>
<text x="70.4" y="395.57" font-size="6.2" fill="#2e2e2e" text-anchor="end">CO:SW_620</text>
<text x="449.8" y="395.57" font-size="6.2" fill="#2e2e2e">CO:SW_620</text>
<text x="70.4" y="401.25" font-size="6.2" fill="#2e2e2e" text-anchor="end">LE:CCRF_CEM</text>
<text x="449.8" y="401.25" font-size="6.2" fill="#2e2e2e">LE:CCRF_CEM</text>
<text x="70.4" y="406.92" font-size="6.2" fill="#2e2e2e" text-anchor="end">LE:HL_60</text>
<text x="449.8" y="406.92" font-size="6.2" fill="#2e2e2e">LE:HL_60</text>
<text x="70.4" y="412.59" font-size="6.2" fill="#2e2e2e" text-anchor="end">LE:K_562</text>
<text x="449.8" y="412.59" font-size="6.2" fill="#2e2e2e">LE:K_562</text>
<text x="70.4" y="418.26" font-size="6.2" fill="#2e2e2e" text-anchor="end">LE:MOLT_4</text>
<text x="449.8" y="418.26" font-size="6.2" fill="#2e2e2e">LE:MOLT_4</text>
<text x="70.4" y="423.93" font-size="6.2" fill="#2e2e2e" text-anchor="end">LE:RPMI_8226</text>
<text x="449.8" y="423.93" font-size="6.2" fill="#2e2e2e">LE:RPMI_8226</text>
<text x="70.4" y="429.61" font-size="6.2" fill="#d23a62" text-anchor="end">LE:SR</text>
<text x="449.8" y="429.61" font-size="6.2" fill="#d23a62">LE:SR</text>
<text x="70.4" y="435.28" font-size="6.2" fill="#d23a62" text-anchor="end">ME:LOXIMVI</text>
<text x="449.8" y="435.28" font-size="6.2" fill="#d23a62">ME:LOXIMVI</text>
<text x="70.4" y="440.95" font-size="6.2" fill="#d23a62" text-anchor="end">ME:MALME_3M</text>
<text x="449.8" y="440.95" font-size="6.2" fill="#d23a62">ME:MALME_3M</text>
<text x="70.4" y="446.62" font-size="6.2" fill="#2e2e2e" text-anchor="end">ME:M14</text>
<text x="449.8" y="446.62" font-size="6.2" fill="#2e2e2e">ME:M14</text>
<text x="70.4" y="452.29" font-size="6.2" fill="#2e2e2e" text-anchor="end">ME:SK_MEL_2</text>
<text x="449.8" y="452.29" font-size="6.2" fill="#2e2e2e">ME:SK_MEL_2</text>
<text x="70.4" y="457.97" font-size="6.2" fill="#2e2e2e" text-anchor="end">ME:SK_MEL_28</text>
<text x="449.8" y="457.97" font-size="6.2" fill="#2e2e2e">ME:SK_MEL_28</text>
<text x="70.4" y="463.64" font-size="6.2" fill="#d23a62" text-anchor="end">ME:SK_MEL_5</text>
<text x="449.8" y="463.64" font-size="6.2" fill="#d23a62">ME:SK_MEL_5</text>
<text x="70.4" y="469.31" font-size="6.2" fill="#d23a62" text-anchor="end">ME:UACC_257</text>
<text x="449.8" y="469.31" font-size="6.2" fill="#d23a62">ME:UACC_257</text>
<text x="70.4" y="474.98" font-size="6.2" fill="#d23a62" text-anchor="end">ME:UACC_62</text>
<text x="449.8" y="474.98" font-size="6.2" fill="#d23a62">ME:UACC_62</text>
<text x="70.4" y="480.65" font-size="6.2" fill="#2e2e2e" text-anchor="end">ME:MDA_MB_435</text>
<text x="449.8" y="480.65" font-size="6.2" fill="#2e2e2e">ME:MDA_MB_435</text>
<text x="70.4" y="486.33" font-size="6.2" fill="#2e2e2e" text-anchor="end">ME:MDA_N</text>
<text x="449.8" y="486.33" font-size="6.2" fill="#2e2e2e">ME:MDA_N</text>
<text x="70.4" y="492.00" font-size="6.2" fill="#d23a62" text-anchor="end">LC:A549</text>
<text x="449.8" y="492.00" font-size="6.2" fill="#d23a62">LC:A549</text>
<text x="70.4" y="497.67" font-size="6.2" fill="#2e2e2e" text-anchor="end">LC:EKVX</text>
<text x="449.8" y="497.67" font-size="6.2" fill="#2e2e2e">LC:EKVX</text>
<text x="70.4" y="503.34" font-size="6.2" fill="#2e2e2e" text-anchor="end">LC:HOP_62</text>
<text x="449.8" y="503.34" font-size="6.2" fill="#2e2e2e">LC:HOP_62</text>
<text x="70.4" y="509.01" font-size="6.2" fill="#2e2e2e" text-anchor="end">LC:HOP_92</text>
<text x="449.8" y="509.01" font-size="6.2" fill="#2e2e2e">LC:HOP_92</text>
<text x="70.4" y="514.69" font-size="6.2" fill="#d23a62" text-anchor="end">LC:NCI_H226</text>
<text x="449.8" y="514.69" font-size="6.2" fill="#d23a62">LC:NCI_H226</text>
<text x="70.4" y="520.36" font-size="6.2" fill="#2e2e2e" text-anchor="end">LC:NCI_H23</text>
<text x="449.8" y="520.36" font-size="6.2" fill="#2e2e2e">LC:NCI_H23</text>
<text x="70.4" y="526.03" font-size="6.2" fill="#2e2e2e" text-anchor="end">LC:NCI_H322M</text>
<text x="449.8" y="526.03" font-size="6.2" fill="#2e2e2e">LC:NCI_H322M</text>
<text x="70.4" y="531.70" font-size="6.2" fill="#d23a62" text-anchor="end">LC:NCI_H460</text>
<text x="449.8" y="531.70" font-size="6.2" fill="#d23a62">LC:NCI_H460</text>
<text x="70.4" y="537.37" font-size="6.2" fill="#2e2e2e" text-anchor="end">LC:NCI_H522</text>
<text x="449.8" y="537.37" font-size="6.2" fill="#2e2e2e">LC:NCI_H522</text>
<text x="70.4" y="543.05" font-size="6.2" fill="#2e2e2e" text-anchor="end">OV:IGROV1</text>
<text x="449.8" y="543.05" font-size="6.2" fill="#2e2e2e">OV:IGROV1</text>
<text x="70.4" y="548.72" font-size="6.2" fill="#2e2e2e" text-anchor="end">OV:OVCAR_3</text>
<text x="449.8" y="548.72" font-size="6.2" fill="#2e2e2e">OV:OVCAR_3</text>
<text x="70.4" y="554.39" font-size="6.2" fill="#2e2e2e" text-anchor="end">OV:OVCAR_4</text>
<text x="449.8" y="554.39" font-size="6.2" fill="#2e2e2e">OV:OVCAR_4</text>
<text x="70.4" y="560.06" font-size="6.2" fill="#2e2e2e" text-anchor="end">OV:OVCAR_5</text>
<text x="449.8" y="560.06" font-size="6.2" fill="#2e2e2e">OV:OVCAR_5</text>
<text x="70.4" y="565.73" font-size="6.2" fill="#2e2e2e" text-anchor="end">OV:OVCAR_8</text>
<text x="449.8" y="565.73" font-size="6.2" fill="#2e2e2e">OV:OVCAR_8</text>
<text x="70.4" y="571.41" font-size="6.2" fill="#2e2e2e" text-anchor="end">OV:SK_OV_3</text>
<text x="449.8" y="571.41" font-size="6.2" fill="#2e2e2e">OV:SK_OV_3</text>
<text x="70.4" y="577.08" font-size="6.2" fill="#2e2e2e" text-anchor="end">OV:NCI_ADR_RES</text>
<text x="449.8" y="577.08" font-size="6.2" fill="#2e2e2e">OV:NCI_ADR_RES</text>
<text x="70.4" y="582.75" font-size="6.2" fill="#2e2e2e" text-anchor="end">PR:PC_3</text>
<text x="449.8" y="582.75" font-size="6.2" fill="#2e2e2e">PR:PC_3</text>
<text x="70.4" y="588.42" font-size="6.2" fill="#2e2e2e" text-anchor="end">PR:DU_145</text>
<text x="449.8" y="588.42" font-size="6.2" fill="#2e2e2e">PR:DU_145</text>
<text x="70.4" y="594.09" font-size="6.2" fill="#2e2e2e" text-anchor="end">RE:786_0</text>
<text x="449.8" y="594.09" font-size="6.2" fill="#2e2e2e">RE:786_0</text>
<text x="70.4" y="599.77" font-size="6.2" fill="#d23a62" text-anchor="end">RE:A498</text>
<text x="449.8" y="599.77" font-size="6.2" fill="#d23a62">RE:A498</text>
<text x="70.4" y="605.44" font-size="6.2" fill="#d23a62" text-anchor="end">RE:ACHN</text>
<text x="449.8" y="605.44" font-size="6.2" fill="#d23a62">RE:ACHN</text>
<text x="70.4" y="611.11" font-size="6.2" fill="#d23a62" text-anchor="end">RE:CAKI_1</text>
<text x="449.8" y="611.11" font-size="6.2" fill="#d23a62">RE:CAKI_1</text>
<text x="70.4" y="616.78" font-size="6.2" fill="#2e2e2e" text-anchor="end">RE:RXF_393</text>
<text x="449.8" y="616.78" font-size="6.2" fill="#2e2e2e">RE:RXF_393</text>
<text x="70.4" y="622.45" font-size="6.2" fill="#2e2e2e" text-anchor="end">RE:SN12C</text>
<text x="449.8" y="622.45" font-size="6.2" fill="#2e2e2e">RE:SN12C</text>
<text x="70.4" y="628.13" font-size="6.2" fill="#2e2e2e" text-anchor="end">RE:TK_10</text>
<text x="449.8" y="628.13" font-size="6.2" fill="#2e2e2e">RE:TK_10</text>
<text x="70.4" y="633.80" font-size="6.2" fill="#d23a62" text-anchor="end">RE:UO_31</text>
<text x="449.8" y="633.80" font-size="6.2" fill="#d23a62">RE:UO_31</text>
<line x1="98.5" y1="635.2" x2="98.5" y2="638.8000000000001" stroke="#333" stroke-width="0.9"/>
<line x1="117.4" y1="635.2" x2="117.4" y2="637.4000000000001" stroke="#333" stroke-width="0.9"/>
<line x1="128.5" y1="635.2" x2="128.5" y2="637.4000000000001" stroke="#333" stroke-width="0.9"/>
<line x1="136.4" y1="635.2" x2="136.4" y2="637.4000000000001" stroke="#333" stroke-width="0.9"/>
<line x1="142.5" y1="635.2" x2="142.5" y2="637.4000000000001" stroke="#333" stroke-width="0.9"/>
<line x1="147.4" y1="635.2" x2="147.4" y2="637.4000000000001" stroke="#333" stroke-width="0.9"/>
<line x1="151.7" y1="635.2" x2="151.7" y2="637.4000000000001" stroke="#333" stroke-width="0.9"/>
<line x1="155.3" y1="635.2" x2="155.3" y2="637.4000000000001" stroke="#333" stroke-width="0.9"/>
<line x1="158.5" y1="635.2" x2="158.5" y2="637.4000000000001" stroke="#333" stroke-width="0.9"/>
<line x1="161.4" y1="635.2" x2="161.4" y2="638.8000000000001" stroke="#333" stroke-width="0.9"/>
<line x1="180.3" y1="635.2" x2="180.3" y2="637.4000000000001" stroke="#333" stroke-width="0.9"/>
<line x1="191.4" y1="635.2" x2="191.4" y2="637.4000000000001" stroke="#333" stroke-width="0.9"/>
<text x="92.8" y="647.8" font-size="9" fill="#444" textLength="9.5" lengthAdjust="spacingAndGlyphs">10</text>
<text x="102.6" y="644.8" font-size="7.6" fill="#444" textLength="7.6" lengthAdjust="spacingAndGlyphs">-6</text>
<text x="156.3" y="647.8" font-size="9" fill="#444" textLength="9.5" lengthAdjust="spacingAndGlyphs">10</text>
<text x="166.10000000000002" y="644.8" font-size="7.6" fill="#444" textLength="7.6" lengthAdjust="spacingAndGlyphs">-5</text>
<text x="107.5" y="658.6" font-size="8.6" font-weight="bold" fill="#111" textLength="49.3" lengthAdjust="spacingAndGlyphs">Nutlin-3 (M)</text>
<text x="190.4" y="647.8" font-size="8.6" font-weight="bold" fill="#111" textLength="41.5" lengthAdjust="spacingAndGlyphs">Wild-type</text>
<text x="200" y="658.8" font-size="8.6" font-weight="bold" fill="#111" textLength="21.5" lengthAdjust="spacingAndGlyphs">TP53</text>
<line x1="244.0" y1="635.2" x2="244.0" y2="638.6" stroke="#333" stroke-width="0.9"/>
<text x="243.4" y="649.2" font-size="9" fill="#444" text-anchor="middle">6</text>
<line x1="272.2" y1="635.2" x2="272.2" y2="638.6" stroke="#333" stroke-width="0.9"/>
<text x="271.59999999999997" y="649.2" font-size="9" fill="#444" text-anchor="middle">7</text>
<line x1="300.5" y1="635.2" x2="300.5" y2="638.6" stroke="#333" stroke-width="0.9"/>
<text x="299.9" y="649.2" font-size="9" fill="#444" text-anchor="middle">8</text>
<line x1="328.7" y1="635.2" x2="328.7" y2="638.6" stroke="#333" stroke-width="0.9"/>
<text x="328.09999999999997" y="649.2" font-size="9" fill="#444" text-anchor="middle">9</text>
<text x="242.3" y="658.8" font-size="8.6" font-weight="bold" fill="#111" textLength="73.4" lengthAdjust="spacingAndGlyphs">Mdm2 transcripts</text>
<line x1="351.5" y1="635.2" x2="351.5" y2="638.8000000000001" stroke="#333" stroke-width="1"/>
<text x="351.5" y="649.0" font-size="8.6" fill="#444" text-anchor="middle">0</text>
<line x1="371.0" y1="635.2" x2="371.0" y2="638.8000000000001" stroke="#333" stroke-width="1"/>
<text x="371.0" y="649.0" font-size="8.6" fill="#444" text-anchor="middle">2</text>
<line x1="390.4" y1="635.2" x2="390.4" y2="638.8000000000001" stroke="#333" stroke-width="1"/>
<text x="390.4" y="649.0" font-size="8.6" fill="#444" text-anchor="middle">4</text>
<line x1="409.8" y1="635.2" x2="409.8" y2="638.8000000000001" stroke="#333" stroke-width="1"/>
<text x="409.8" y="649.0" font-size="8.6" fill="#444" text-anchor="middle">6</text>
<line x1="429.2" y1="635.2" x2="429.2" y2="638.8000000000001" stroke="#333" stroke-width="1"/>
<text x="429.2" y="649.0" font-size="8.6" fill="#444" text-anchor="middle">8</text>
<line x1="448.6" y1="635.2" x2="448.6" y2="638.8000000000001" stroke="#333" stroke-width="1"/>
<text x="448.6" y="649.0" font-size="8.6" fill="#444" text-anchor="middle">10</text>
<text x="356.2" y="658.8" font-size="8.6" font-weight="bold" fill="#111" textLength="81.9" lengthAdjust="spacingAndGlyphs">mIR-34a transcripts</text>
<rect x="0" y="0" width="1.4" height="679" fill="#667a78"/>
<rect x="0" y="0" width="520" height="1.4" fill="#667a78"/>
<rect x="518.1" y="0" width="1.9" height="679" fill="#667a78"/>
<rect x="0" y="677" width="520" height="2" fill="#667a78"/>
</svg></body></html>
